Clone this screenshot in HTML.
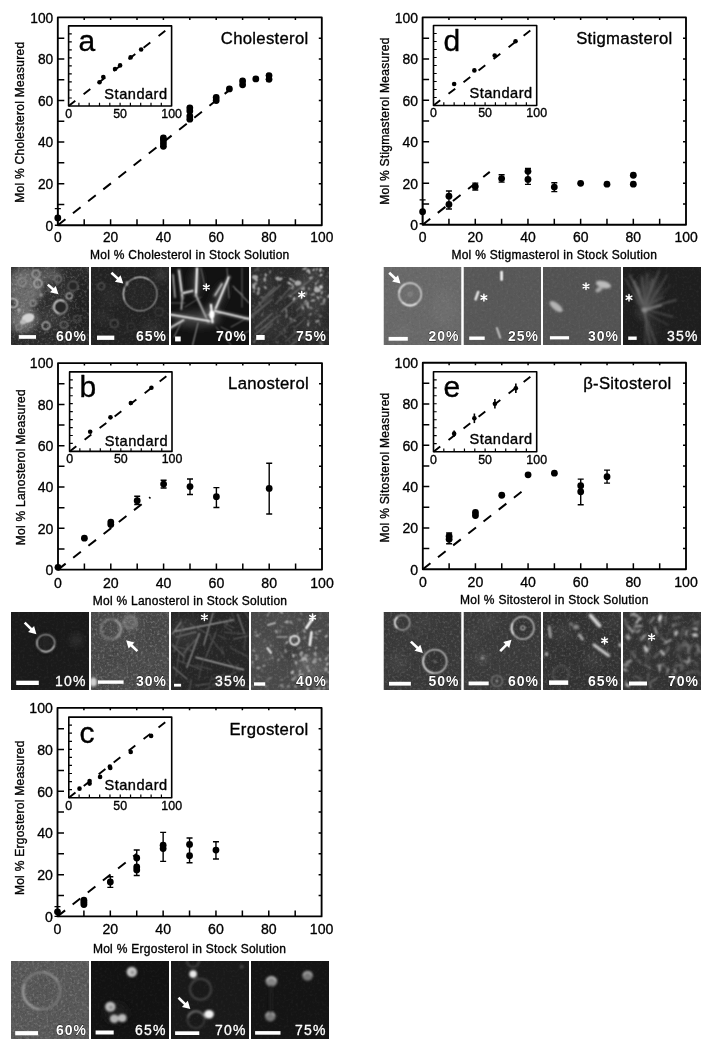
<!DOCTYPE html><html><head><meta charset="utf-8"><style>html,body{margin:0;padding:0;background:#fff;}svg{display:block;} .p text{stroke:#000;stroke-width:0.35px;}</style></head><body>
<svg width="709" height="1050" viewBox="0 0 709 1050" font-family='"Liberation Sans", sans-serif' stroke-linejoin='round'>
<rect width="709" height="1050" fill="#fff"/>
<defs><filter id="soft" x="-1%" y="-1%" width="102%" height="102%"><feOffset dx="0" dy="0"/></filter></defs>
<g filter="url(#soft)" class="p">
<rect x="57.8" y="17.4" width="264" height="207.8" fill="none" stroke="#000" stroke-width="1.85"/>
<path d="M84.2 225.2v-6M84.2 17.4v2.5M57.8 204.42h6.5M321.8 204.42h-3M110.6 225.2v-6M110.6 17.4v2.5M57.8 183.64h6.5M321.8 183.64h-3M137 225.2v-6M137 17.4v2.5M57.8 162.86h6.5M321.8 162.86h-3M163.4 225.2v-6M163.4 17.4v2.5M57.8 142.08h6.5M321.8 142.08h-3M189.8 225.2v-6M189.8 17.4v2.5M57.8 121.3h6.5M321.8 121.3h-3M216.2 225.2v-6M216.2 17.4v2.5M57.8 100.52h6.5M321.8 100.52h-3M242.6 225.2v-6M242.6 17.4v2.5M57.8 79.74h6.5M321.8 79.74h-3M269 225.2v-6M269 17.4v2.5M57.8 58.96h6.5M321.8 58.96h-3M295.4 225.2v-6M295.4 17.4v2.5M57.8 38.18h6.5M321.8 38.18h-3" stroke="#000" stroke-width="1.5" fill="none"/>
<text transform="translate(57.8 242) scale(0.915 1)" text-anchor="middle" font-size="15.04">0</text>
<text transform="translate(53.2 230.5) scale(0.915 1)" text-anchor="end" font-size="15.04">0</text>
<text transform="translate(110.6 242) scale(0.915 1)" text-anchor="middle" font-size="15.04">20</text>
<text transform="translate(53.2 188.94) scale(0.915 1)" text-anchor="end" font-size="15.04">20</text>
<text transform="translate(163.4 242) scale(0.915 1)" text-anchor="middle" font-size="15.04">40</text>
<text transform="translate(53.2 147.38) scale(0.915 1)" text-anchor="end" font-size="15.04">40</text>
<text transform="translate(216.2 242) scale(0.915 1)" text-anchor="middle" font-size="15.04">60</text>
<text transform="translate(53.2 105.82) scale(0.915 1)" text-anchor="end" font-size="15.04">60</text>
<text transform="translate(269 242) scale(0.915 1)" text-anchor="middle" font-size="15.04">80</text>
<text transform="translate(53.2 64.26) scale(0.915 1)" text-anchor="end" font-size="15.04">80</text>
<text transform="translate(321.8 242) scale(0.915 1)" text-anchor="middle" font-size="15.04">100</text>
<text transform="translate(53.2 22.7) scale(0.915 1)" text-anchor="end" font-size="15.04">100</text>
<text x="189.8" y="258.8" text-anchor="middle" font-size="12" letter-spacing="0.27">Mol % Cholesterol in Stock Solution</text>
<text transform="translate(24.4 122.2) rotate(-90)" text-anchor="middle" font-size="12" letter-spacing="0.27">Mol % Cholesterol Measured</text>
<text x="308.5" y="43.8" text-anchor="end" font-size="16.7" letter-spacing="0.3">Cholesterol</text>
<line x1="57.8" y1="225.2" x2="229.4" y2="90.13" stroke="#000" stroke-width="2" stroke-dasharray="9.7 9.6"/>
<path d="M57.8 225.2V208.58M54.8 225.2h6M54.8 208.58h6" stroke="#000" stroke-width="1.4" fill="none"/>
<circle cx="57.8" cy="217.93" r="3.4"/>
<circle cx="163.4" cy="146.24" r="3.4"/>
<circle cx="163.4" cy="143.12" r="3.4"/>
<circle cx="163.4" cy="140" r="3.4"/>
<circle cx="163.4" cy="137.92" r="3.4"/>
<circle cx="189.8" cy="119.22" r="3.4"/>
<circle cx="189.8" cy="116.1" r="3.4"/>
<circle cx="189.8" cy="110.91" r="3.4"/>
<circle cx="189.8" cy="107.79" r="3.4"/>
<circle cx="216.2" cy="100.52" r="3.4"/>
<circle cx="216.2" cy="97.4" r="3.4"/>
<circle cx="229.4" cy="88.88" r="3.4"/>
<circle cx="242.6" cy="84.73" r="3.4"/>
<circle cx="242.6" cy="80.99" r="3.4"/>
<circle cx="255.8" cy="78.91" r="3.4"/>
<circle cx="269" cy="79.32" r="3.4"/>
<circle cx="269" cy="75.58" r="3.4"/>
<rect x="68.6" y="25.9" width="103" height="80.1" fill="#fff" stroke="#000" stroke-width="1.6"/>
<path d="M78.9 106v-3.2M68.6 97.99h3.2M89.2 106v-3.2M68.6 89.98h3.2M99.5 106v-3.2M68.6 81.97h3.2M109.8 106v-3.2M68.6 73.96h3.2M120.1 106v-3.2M68.6 65.95h3.2M130.4 106v-3.2M68.6 57.94h3.2M140.7 106v-3.2M68.6 49.93h3.2M151 106v-3.2M68.6 41.92h3.2M161.3 106v-3.2M68.6 33.91h3.2" stroke="#000" stroke-width="1.2" fill="none"/>
<text x="68.6" y="117.8" text-anchor="middle" font-size="12.4">0</text>
<text x="120.1" y="117.8" text-anchor="middle" font-size="12.4">50</text>
<text x="171.6" y="117.8" text-anchor="middle" font-size="12.4">100</text>
<line x1="68.6" y1="106" x2="167.48" y2="29.1" stroke="#000" stroke-width="1.9" stroke-dasharray="8.5 10.5"/>
<circle cx="99.5" cy="82.29" r="2.3"/>
<circle cx="103.31" cy="77" r="2.3"/>
<circle cx="115.05" cy="69.07" r="2.3"/>
<circle cx="120.1" cy="65.39" r="2.3"/>
<circle cx="130.61" cy="57.38" r="2.3"/>
<circle cx="141.11" cy="49.53" r="2.3"/>
<text x="167.6" y="98.6" text-anchor="end" font-size="14.6" letter-spacing="0.5">Standard</text>
<text x="78.5" y="51" font-size="30">a</text>
<rect x="422.6" y="17.4" width="263.4" height="207.4" fill="none" stroke="#000" stroke-width="1.85"/>
<path d="M448.94 224.8v-6M448.94 17.4v2.5M422.6 204.06h6.5M686 204.06h-3M475.28 224.8v-6M475.28 17.4v2.5M422.6 183.32h6.5M686 183.32h-3M501.62 224.8v-6M501.62 17.4v2.5M422.6 162.58h6.5M686 162.58h-3M527.96 224.8v-6M527.96 17.4v2.5M422.6 141.84h6.5M686 141.84h-3M554.3 224.8v-6M554.3 17.4v2.5M422.6 121.1h6.5M686 121.1h-3M580.64 224.8v-6M580.64 17.4v2.5M422.6 100.36h6.5M686 100.36h-3M606.98 224.8v-6M606.98 17.4v2.5M422.6 79.62h6.5M686 79.62h-3M633.32 224.8v-6M633.32 17.4v2.5M422.6 58.88h6.5M686 58.88h-3M659.66 224.8v-6M659.66 17.4v2.5M422.6 38.14h6.5M686 38.14h-3" stroke="#000" stroke-width="1.5" fill="none"/>
<text transform="translate(422.6 241.9) scale(0.915 1)" text-anchor="middle" font-size="15.24">0</text>
<text transform="translate(418 230.1) scale(0.915 1)" text-anchor="end" font-size="15.24">0</text>
<text transform="translate(475.28 241.9) scale(0.915 1)" text-anchor="middle" font-size="15.24">20</text>
<text transform="translate(418 188.62) scale(0.915 1)" text-anchor="end" font-size="15.24">20</text>
<text transform="translate(527.96 241.9) scale(0.915 1)" text-anchor="middle" font-size="15.24">40</text>
<text transform="translate(418 147.14) scale(0.915 1)" text-anchor="end" font-size="15.24">40</text>
<text transform="translate(580.64 241.9) scale(0.915 1)" text-anchor="middle" font-size="15.24">60</text>
<text transform="translate(418 105.66) scale(0.915 1)" text-anchor="end" font-size="15.24">60</text>
<text transform="translate(633.32 241.9) scale(0.915 1)" text-anchor="middle" font-size="15.24">80</text>
<text transform="translate(418 64.18) scale(0.915 1)" text-anchor="end" font-size="15.24">80</text>
<text transform="translate(686 241.9) scale(0.915 1)" text-anchor="middle" font-size="15.24">100</text>
<text transform="translate(418 22.7) scale(0.915 1)" text-anchor="end" font-size="15.24">100</text>
<text x="554.3" y="258.9" text-anchor="middle" font-size="12" letter-spacing="0.27">Mol % Stigmasterol in Stock Solution</text>
<text transform="translate(389.2 121.1) rotate(-90)" text-anchor="middle" font-size="12" letter-spacing="0.27">Mol % Stigmasterol Measured</text>
<text x="672.5" y="43.8" text-anchor="end" font-size="16.7" letter-spacing="0.3">Stigmasterol</text>
<line x1="422.6" y1="224.8" x2="489.77" y2="171.91" stroke="#000" stroke-width="2" stroke-dasharray="9.7 9.6"/>
<path d="M422.6 223.76V199.91M419.6 223.76h6M419.6 199.91h6" stroke="#000" stroke-width="1.4" fill="none"/>
<circle cx="422.6" cy="211.73" r="3.4"/>
<path d="M448.94 209.04V190.99M445.94 209.04h6M445.94 190.99h6" stroke="#000" stroke-width="1.4" fill="none"/>
<circle cx="448.94" cy="196.18" r="3.4"/>
<circle cx="448.94" cy="204.47" r="3.4"/>
<path d="M475.28 189.96V183.11M472.28 189.96h6M472.28 183.11h6" stroke="#000" stroke-width="1.4" fill="none"/>
<circle cx="475.28" cy="186.43" r="3.4"/>
<path d="M501.62 182.08V174.82M498.62 182.08h6M498.62 174.82h6" stroke="#000" stroke-width="1.4" fill="none"/>
<circle cx="501.62" cy="178.55" r="3.4"/>
<path d="M527.96 184.36V168.39M524.96 184.36h6M524.96 168.39h6" stroke="#000" stroke-width="1.4" fill="none"/>
<circle cx="527.96" cy="171.29" r="3.4"/>
<circle cx="527.96" cy="179.38" r="3.4"/>
<path d="M554.3 191.62V182.7M551.3 191.62h6M551.3 182.7h6" stroke="#000" stroke-width="1.4" fill="none"/>
<circle cx="554.3" cy="187.05" r="3.4"/>
<circle cx="580.64" cy="183.32" r="3.4"/>
<circle cx="606.98" cy="184.15" r="3.4"/>
<circle cx="633.32" cy="175.23" r="3.4"/>
<circle cx="633.32" cy="184.15" r="3.4"/>
<rect x="433.5" y="25.5" width="103.2" height="80" fill="#fff" stroke="#000" stroke-width="1.6"/>
<path d="M443.82 105.5v-3.2M433.5 97.5h3.2M454.14 105.5v-3.2M433.5 89.5h3.2M464.46 105.5v-3.2M433.5 81.5h3.2M474.78 105.5v-3.2M433.5 73.5h3.2M485.1 105.5v-3.2M433.5 65.5h3.2M495.42 105.5v-3.2M433.5 57.5h3.2M505.74 105.5v-3.2M433.5 49.5h3.2M516.06 105.5v-3.2M433.5 41.5h3.2M526.38 105.5v-3.2M433.5 33.5h3.2" stroke="#000" stroke-width="1.2" fill="none"/>
<text x="433.5" y="117.3" text-anchor="middle" font-size="12.4">0</text>
<text x="485.1" y="117.3" text-anchor="middle" font-size="12.4">50</text>
<text x="536.7" y="117.3" text-anchor="middle" font-size="12.4">100</text>
<line x1="433.5" y1="105.5" x2="532.57" y2="28.7" stroke="#000" stroke-width="1.9" stroke-dasharray="8.5 10.5"/>
<circle cx="454.14" cy="83.98" r="2.3"/>
<circle cx="474.37" cy="70.38" r="2.3"/>
<circle cx="494.7" cy="55.5" r="2.3"/>
<circle cx="515.54" cy="41.18" r="2.3"/>
<text x="532.7" y="97.5" text-anchor="end" font-size="14.6" letter-spacing="0.5">Standard</text>
<text x="443.5" y="51.2" font-size="30">d</text>
<rect x="58" y="363.1" width="264" height="206.5" fill="none" stroke="#000" stroke-width="1.85"/>
<path d="M84.4 569.6v-6M84.4 363.1v2.5M58 548.95h6.5M322 548.95h-3M110.8 569.6v-6M110.8 363.1v2.5M58 528.3h6.5M322 528.3h-3M137.2 569.6v-6M137.2 363.1v2.5M58 507.65h6.5M322 507.65h-3M163.6 569.6v-6M163.6 363.1v2.5M58 487h6.5M322 487h-3M190 569.6v-6M190 363.1v2.5M58 466.35h6.5M322 466.35h-3M216.4 569.6v-6M216.4 363.1v2.5M58 445.7h6.5M322 445.7h-3M242.8 569.6v-6M242.8 363.1v2.5M58 425.05h6.5M322 425.05h-3M269.2 569.6v-6M269.2 363.1v2.5M58 404.4h6.5M322 404.4h-3M295.6 569.6v-6M295.6 363.1v2.5M58 383.75h6.5M322 383.75h-3" stroke="#000" stroke-width="1.5" fill="none"/>
<text transform="translate(58 587.5) scale(0.915 1)" text-anchor="middle" font-size="15.45">0</text>
<text transform="translate(53.4 574.9) scale(0.915 1)" text-anchor="end" font-size="15.45">0</text>
<text transform="translate(110.8 587.5) scale(0.915 1)" text-anchor="middle" font-size="15.45">20</text>
<text transform="translate(53.4 533.6) scale(0.915 1)" text-anchor="end" font-size="15.45">20</text>
<text transform="translate(163.6 587.5) scale(0.915 1)" text-anchor="middle" font-size="15.45">40</text>
<text transform="translate(53.4 492.3) scale(0.915 1)" text-anchor="end" font-size="15.45">40</text>
<text transform="translate(216.4 587.5) scale(0.915 1)" text-anchor="middle" font-size="15.45">60</text>
<text transform="translate(53.4 451) scale(0.915 1)" text-anchor="end" font-size="15.45">60</text>
<text transform="translate(269.2 587.5) scale(0.915 1)" text-anchor="middle" font-size="15.45">80</text>
<text transform="translate(53.4 409.7) scale(0.915 1)" text-anchor="end" font-size="15.45">80</text>
<text transform="translate(322 587.5) scale(0.915 1)" text-anchor="middle" font-size="15.45">100</text>
<text transform="translate(53.4 368.4) scale(0.915 1)" text-anchor="end" font-size="15.45">100</text>
<text x="190" y="604.5" text-anchor="middle" font-size="12" letter-spacing="0.27">Mol % Lanosterol in Stock Solution</text>
<text transform="translate(24.6 467.25) rotate(-90)" text-anchor="middle" font-size="12" letter-spacing="0.27">Mol % Lanosterol Measured</text>
<text x="309" y="389" text-anchor="end" font-size="16.7" letter-spacing="0.3">Lanosterol</text>
<line x1="58" y1="569.6" x2="150.4" y2="497.33" stroke="#000" stroke-width="2" stroke-dasharray="9.7 9.6"/>
<circle cx="58" cy="567.33" r="3.4"/>
<circle cx="84.4" cy="538.21" r="3.4"/>
<circle cx="110.8" cy="524.58" r="3.4"/>
<circle cx="110.8" cy="522.11" r="3.4"/>
<path d="M137.2 504.55V496.29M134.2 504.55h6M134.2 496.29h6" stroke="#000" stroke-width="1.4" fill="none"/>
<circle cx="137.2" cy="500.63" r="3.4"/>
<path d="M163.6 488.03V480.19M160.6 488.03h6M160.6 480.19h6" stroke="#000" stroke-width="1.4" fill="none"/>
<circle cx="163.6" cy="484.11" r="3.4"/>
<path d="M190 494.43V478.95M187 494.43h6M187 478.95h6" stroke="#000" stroke-width="1.4" fill="none"/>
<circle cx="190" cy="486.59" r="3.4"/>
<path d="M216.4 507.44V487.62M213.4 507.44h6M213.4 487.62h6" stroke="#000" stroke-width="1.4" fill="none"/>
<circle cx="216.4" cy="496.71" r="3.4"/>
<path d="M269.2 514.05V463.25M266.2 514.05h6M266.2 463.25h6" stroke="#000" stroke-width="1.4" fill="none"/>
<circle cx="269.2" cy="488.45" r="3.4"/>
<rect x="69.6" y="371.9" width="102.4" height="79.5" fill="#fff" stroke="#000" stroke-width="1.6"/>
<path d="M79.84 451.4v-3.2M69.6 443.45h3.2M90.08 451.4v-3.2M69.6 435.5h3.2M100.32 451.4v-3.2M69.6 427.55h3.2M110.56 451.4v-3.2M69.6 419.6h3.2M120.8 451.4v-3.2M69.6 411.65h3.2M131.04 451.4v-3.2M69.6 403.7h3.2M141.28 451.4v-3.2M69.6 395.75h3.2M151.52 451.4v-3.2M69.6 387.8h3.2M161.76 451.4v-3.2M69.6 379.85h3.2" stroke="#000" stroke-width="1.2" fill="none"/>
<text x="69.6" y="463.2" text-anchor="middle" font-size="12.4">0</text>
<text x="120.8" y="463.2" text-anchor="middle" font-size="12.4">50</text>
<text x="172" y="463.2" text-anchor="middle" font-size="12.4">100</text>
<line x1="69.6" y1="451.4" x2="167.9" y2="375.08" stroke="#000" stroke-width="1.9" stroke-dasharray="8.5 10.5"/>
<circle cx="90.18" cy="431.76" r="2.3"/>
<circle cx="110.46" cy="417.37" r="2.3"/>
<circle cx="130.84" cy="402.98" r="2.3"/>
<circle cx="151.42" cy="387.8" r="2.3"/>
<text x="168" y="446.1" text-anchor="end" font-size="14.6" letter-spacing="0.5">Standard</text>
<text x="79.5" y="397.2" font-size="30">b</text>
<rect x="422.8" y="362.7" width="263.2" height="206.5" fill="none" stroke="#000" stroke-width="1.85"/>
<path d="M449.12 569.2v-6M449.12 362.7v2.5M422.8 548.55h6.5M686 548.55h-3M475.44 569.2v-6M475.44 362.7v2.5M422.8 527.9h6.5M686 527.9h-3M501.76 569.2v-6M501.76 362.7v2.5M422.8 507.25h6.5M686 507.25h-3M528.08 569.2v-6M528.08 362.7v2.5M422.8 486.6h6.5M686 486.6h-3M554.4 569.2v-6M554.4 362.7v2.5M422.8 465.95h6.5M686 465.95h-3M580.72 569.2v-6M580.72 362.7v2.5M422.8 445.3h6.5M686 445.3h-3M607.04 569.2v-6M607.04 362.7v2.5M422.8 424.65h6.5M686 424.65h-3M633.36 569.2v-6M633.36 362.7v2.5M422.8 404h6.5M686 404h-3M659.68 569.2v-6M659.68 362.7v2.5M422.8 383.35h6.5M686 383.35h-3" stroke="#000" stroke-width="1.5" fill="none"/>
<text transform="translate(422.8 587.4) scale(0.915 1)" text-anchor="middle" font-size="15.45">0</text>
<text transform="translate(418.2 574.5) scale(0.915 1)" text-anchor="end" font-size="15.45">0</text>
<text transform="translate(475.44 587.4) scale(0.915 1)" text-anchor="middle" font-size="15.45">20</text>
<text transform="translate(418.2 533.2) scale(0.915 1)" text-anchor="end" font-size="15.45">20</text>
<text transform="translate(528.08 587.4) scale(0.915 1)" text-anchor="middle" font-size="15.45">40</text>
<text transform="translate(418.2 491.9) scale(0.915 1)" text-anchor="end" font-size="15.45">40</text>
<text transform="translate(580.72 587.4) scale(0.915 1)" text-anchor="middle" font-size="15.45">60</text>
<text transform="translate(418.2 450.6) scale(0.915 1)" text-anchor="end" font-size="15.45">60</text>
<text transform="translate(633.36 587.4) scale(0.915 1)" text-anchor="middle" font-size="15.45">80</text>
<text transform="translate(418.2 409.3) scale(0.915 1)" text-anchor="end" font-size="15.45">80</text>
<text transform="translate(686 587.4) scale(0.915 1)" text-anchor="middle" font-size="15.45">100</text>
<text transform="translate(418.2 368) scale(0.915 1)" text-anchor="end" font-size="15.45">100</text>
<text x="554.4" y="604.4" text-anchor="middle" font-size="12" letter-spacing="0.27">Mol % Sitosterol in Stock Solution</text>
<text transform="translate(389.4 467.55) rotate(-90)" text-anchor="middle" font-size="12" letter-spacing="0.27">Mol % Sitosterol Measured</text>
<text x="671.5" y="389" text-anchor="end" font-size="16.7" letter-spacing="0.3">β-Sitosterol</text>
<line x1="422.8" y1="569.2" x2="522.82" y2="490.73" stroke="#000" stroke-width="2" stroke-dasharray="9.7 9.6"/>
<path d="M449.12 543.8V533.06M446.12 543.8h6M446.12 533.06h6" stroke="#000" stroke-width="1.4" fill="none"/>
<circle cx="449.12" cy="539.26" r="3.4"/>
<circle cx="449.12" cy="536.16" r="3.4"/>
<circle cx="475.44" cy="515.51" r="3.4"/>
<circle cx="475.44" cy="512.41" r="3.4"/>
<circle cx="501.76" cy="495.27" r="3.4"/>
<circle cx="528.08" cy="474.83" r="3.4"/>
<circle cx="554.4" cy="473.18" r="3.4"/>
<path d="M580.72 504.77V479.17M577.72 504.77h6M577.72 479.17h6" stroke="#000" stroke-width="1.4" fill="none"/>
<circle cx="580.72" cy="485.77" r="3.4"/>
<circle cx="580.72" cy="491.76" r="3.4"/>
<path d="M607.04 483.09V470.08M604.04 483.09h6M604.04 470.08h6" stroke="#000" stroke-width="1.4" fill="none"/>
<circle cx="607.04" cy="476.69" r="3.4"/>
<rect x="433.5" y="371.8" width="103.2" height="79.9" fill="#fff" stroke="#000" stroke-width="1.6"/>
<path d="M443.82 451.7v-3.2M433.5 443.71h3.2M454.14 451.7v-3.2M433.5 435.72h3.2M464.46 451.7v-3.2M433.5 427.73h3.2M474.78 451.7v-3.2M433.5 419.74h3.2M485.1 451.7v-3.2M433.5 411.75h3.2M495.42 451.7v-3.2M433.5 403.76h3.2M505.74 451.7v-3.2M433.5 395.77h3.2M516.06 451.7v-3.2M433.5 387.78h3.2M526.38 451.7v-3.2M433.5 379.79h3.2" stroke="#000" stroke-width="1.2" fill="none"/>
<text x="433.5" y="463.5" text-anchor="middle" font-size="12.4">0</text>
<text x="485.1" y="463.5" text-anchor="middle" font-size="12.4">50</text>
<text x="536.7" y="463.5" text-anchor="middle" font-size="12.4">100</text>
<line x1="433.5" y1="451.7" x2="532.57" y2="375" stroke="#000" stroke-width="1.9" stroke-dasharray="8.5 10.5"/>
<path d="M454.14 436.84V430.45" stroke="#000" stroke-width="1.6"/>
<circle cx="454.14" cy="433.64" r="2.3"/>
<path d="M474.37 423.1V413.51" stroke="#000" stroke-width="1.6"/>
<circle cx="474.37" cy="418.3" r="2.3"/>
<path d="M494.9 408.47V398.89" stroke="#000" stroke-width="1.6"/>
<circle cx="494.9" cy="403.68" r="2.3"/>
<path d="M515.85 393.05V383.47" stroke="#000" stroke-width="1.6"/>
<circle cx="515.85" cy="388.26" r="2.3"/>
<text x="532.7" y="444.2" text-anchor="end" font-size="14.6" letter-spacing="0.5">Standard</text>
<text x="443.5" y="397.2" font-size="30">e</text>
<rect x="57.5" y="707.8" width="264.1" height="208.6" fill="none" stroke="#000" stroke-width="1.85"/>
<path d="M83.91 916.4v-6M83.91 707.8v2.5M57.5 895.54h6.5M321.6 895.54h-3M110.32 916.4v-6M110.32 707.8v2.5M57.5 874.68h6.5M321.6 874.68h-3M136.73 916.4v-6M136.73 707.8v2.5M57.5 853.82h6.5M321.6 853.82h-3M163.14 916.4v-6M163.14 707.8v2.5M57.5 832.96h6.5M321.6 832.96h-3M189.55 916.4v-6M189.55 707.8v2.5M57.5 812.1h6.5M321.6 812.1h-3M215.96 916.4v-6M215.96 707.8v2.5M57.5 791.24h6.5M321.6 791.24h-3M242.37 916.4v-6M242.37 707.8v2.5M57.5 770.38h6.5M321.6 770.38h-3M268.78 916.4v-6M268.78 707.8v2.5M57.5 749.52h6.5M321.6 749.52h-3M295.19 916.4v-6M295.19 707.8v2.5M57.5 728.66h6.5M321.6 728.66h-3" stroke="#000" stroke-width="1.5" fill="none"/>
<text transform="translate(57.5 933.8) scale(0.915 1)" text-anchor="middle" font-size="15.45">0</text>
<text transform="translate(52.9 921.7) scale(0.915 1)" text-anchor="end" font-size="15.45">0</text>
<text transform="translate(110.32 933.8) scale(0.915 1)" text-anchor="middle" font-size="15.45">20</text>
<text transform="translate(52.9 879.98) scale(0.915 1)" text-anchor="end" font-size="15.45">20</text>
<text transform="translate(163.14 933.8) scale(0.915 1)" text-anchor="middle" font-size="15.45">40</text>
<text transform="translate(52.9 838.26) scale(0.915 1)" text-anchor="end" font-size="15.45">40</text>
<text transform="translate(215.96 933.8) scale(0.915 1)" text-anchor="middle" font-size="15.45">60</text>
<text transform="translate(52.9 796.54) scale(0.915 1)" text-anchor="end" font-size="15.45">60</text>
<text transform="translate(268.78 933.8) scale(0.915 1)" text-anchor="middle" font-size="15.45">80</text>
<text transform="translate(52.9 754.82) scale(0.915 1)" text-anchor="end" font-size="15.45">80</text>
<text transform="translate(321.6 933.8) scale(0.915 1)" text-anchor="middle" font-size="15.45">100</text>
<text transform="translate(52.9 713.1) scale(0.915 1)" text-anchor="end" font-size="15.45">100</text>
<text x="189.55" y="952.7" text-anchor="middle" font-size="12" letter-spacing="0.27">Mol % Ergosterol in Stock Solution</text>
<text transform="translate(24.1 817.7) rotate(-90)" text-anchor="middle" font-size="12" letter-spacing="0.27">Mol % Ergosterol Measured</text>
<text x="308.5" y="734.5" text-anchor="end" font-size="16.7" letter-spacing="0.3">Ergosterol</text>
<line x1="57.5" y1="916.4" x2="136.73" y2="853.82" stroke="#000" stroke-width="2" stroke-dasharray="9.7 9.6"/>
<path d="M57.5 916.4V906.6M54.5 916.4h6M54.5 906.6h6" stroke="#000" stroke-width="1.4" fill="none"/>
<circle cx="57.5" cy="911.81" r="3.4"/>
<circle cx="83.91" cy="904.51" r="3.4"/>
<circle cx="83.91" cy="902.22" r="3.4"/>
<circle cx="83.91" cy="900.13" r="3.4"/>
<path d="M110.32 887.4V876.77M107.32 887.4h6M107.32 876.77h6" stroke="#000" stroke-width="1.4" fill="none"/>
<circle cx="110.32" cy="881.98" r="3.4"/>
<path d="M136.73 875.51V850.07M133.73 875.51h6M133.73 850.07h6" stroke="#000" stroke-width="1.4" fill="none"/>
<circle cx="136.73" cy="857.99" r="3.4"/>
<circle cx="136.73" cy="866.96" r="3.4"/>
<circle cx="136.73" cy="869.88" r="3.4"/>
<path d="M163.14 861.33V832.33M160.14 861.33h6M160.14 832.33h6" stroke="#000" stroke-width="1.4" fill="none"/>
<circle cx="163.14" cy="845.27" r="3.4"/>
<circle cx="163.14" cy="848.61" r="3.4"/>
<path d="M189.55 862.79V837.97M186.55 862.79h6M186.55 837.97h6" stroke="#000" stroke-width="1.4" fill="none"/>
<circle cx="189.55" cy="844.43" r="3.4"/>
<circle cx="189.55" cy="855.7" r="3.4"/>
<path d="M215.96 859.03V841.72M212.96 859.03h6M212.96 841.72h6" stroke="#000" stroke-width="1.4" fill="none"/>
<circle cx="215.96" cy="850.07" r="3.4"/>
<rect x="68.8" y="717.1" width="102.9" height="80.6" fill="#fff" stroke="#000" stroke-width="1.6"/>
<path d="M79.09 797.7v-3.2M68.8 789.64h3.2M89.38 797.7v-3.2M68.8 781.58h3.2M99.67 797.7v-3.2M68.8 773.52h3.2M109.96 797.7v-3.2M68.8 765.46h3.2M120.25 797.7v-3.2M68.8 757.4h3.2M130.54 797.7v-3.2M68.8 749.34h3.2M140.83 797.7v-3.2M68.8 741.28h3.2M151.12 797.7v-3.2M68.8 733.22h3.2M161.41 797.7v-3.2M68.8 725.16h3.2" stroke="#000" stroke-width="1.2" fill="none"/>
<text x="68.8" y="809.5" text-anchor="middle" font-size="12.4">0</text>
<text x="120.25" y="809.5" text-anchor="middle" font-size="12.4">50</text>
<text x="171.7" y="809.5" text-anchor="middle" font-size="12.4">100</text>
<line x1="68.8" y1="797.7" x2="167.58" y2="720.32" stroke="#000" stroke-width="1.9" stroke-dasharray="8.5 10.5"/>
<circle cx="79.5" cy="788.67" r="2.3"/>
<circle cx="89.59" cy="781.1" r="2.3"/>
<circle cx="89.59" cy="783.6" r="2.3"/>
<circle cx="100.08" cy="776.91" r="2.3"/>
<circle cx="109.86" cy="766.67" r="2.3"/>
<circle cx="110.27" cy="767.88" r="2.3"/>
<circle cx="130.75" cy="752" r="2.3"/>
<circle cx="151.12" cy="735.88" r="2.3"/>
<text x="167.7" y="790.4" text-anchor="end" font-size="14.6" letter-spacing="0.5">Standard</text>
<text x="79.5" y="742.5" font-size="30">c</text>
</g>
<defs><filter id="lbl" x="-5%" y="-10%" width="110%" height="120%"><feOffset dx="0" dy="0"/></filter><filter id="nzw" x="0" y="0" width="100%" height="100%"><feTurbulence type="fractalNoise" baseFrequency="0.42" numOctaves="2" seed="4"/><feColorMatrix type="matrix" values="0 0 0 0 1  0 0 0 0 1  0 0 0 0 1  2.2 0 0 0 -1.05"/></filter><filter id="nzk" x="0" y="0" width="100%" height="100%"><feTurbulence type="fractalNoise" baseFrequency="0.38" numOctaves="2" seed="9"/><feColorMatrix type="matrix" values="0 0 0 0 0  0 0 0 0 0  0 0 0 0 0  -2.2 0 0 0 1.05"/></filter><filter id="bl0" x="-10%" y="-10%" width="120%" height="120%"><feConvolveMatrix order="3" kernelMatrix="1 2 1 2 4 2 1 2 1" divisor="16" edgeMode="none"/></filter><filter id="bb0" x="-30%" y="-30%" width="160%" height="160%"><feGaussianBlur stdDeviation="3.5"/></filter><clipPath id="cp0"><rect x="0" y="0" width="78" height="78"/></clipPath><filter id="bl1" x="-10%" y="-10%" width="120%" height="120%"><feConvolveMatrix order="3" kernelMatrix="1 2 1 2 4 2 1 2 1" divisor="16" edgeMode="none"/></filter><filter id="bb1" x="-30%" y="-30%" width="160%" height="160%"><feGaussianBlur stdDeviation="3.5"/></filter><clipPath id="cp1"><rect x="0" y="0" width="78" height="78"/></clipPath><filter id="bl2" x="-10%" y="-10%" width="120%" height="120%"><feConvolveMatrix order="3" kernelMatrix="1 2 1 2 4 2 1 2 1" divisor="16" edgeMode="none"/></filter><filter id="bb2" x="-30%" y="-30%" width="160%" height="160%"><feGaussianBlur stdDeviation="3.5"/></filter><clipPath id="cp2"><rect x="0" y="0" width="78" height="78"/></clipPath><filter id="bl3" x="-10%" y="-10%" width="120%" height="120%"><feConvolveMatrix order="3" kernelMatrix="1 2 1 2 4 2 1 2 1" divisor="16" edgeMode="none"/></filter><filter id="bb3" x="-30%" y="-30%" width="160%" height="160%"><feGaussianBlur stdDeviation="3.5"/></filter><clipPath id="cp3"><rect x="0" y="0" width="78" height="78"/></clipPath><filter id="bl4" x="-10%" y="-10%" width="120%" height="120%"><feConvolveMatrix order="3" kernelMatrix="1 2 1 2 4 2 1 2 1" divisor="16" edgeMode="none"/></filter><filter id="bb4" x="-30%" y="-30%" width="160%" height="160%"><feGaussianBlur stdDeviation="3.5"/></filter><clipPath id="cp4"><rect x="0" y="0" width="78" height="78"/></clipPath><filter id="bl5" x="-10%" y="-10%" width="120%" height="120%"><feConvolveMatrix order="3" kernelMatrix="1 2 1 2 4 2 1 2 1" divisor="16" edgeMode="none"/></filter><filter id="bb5" x="-30%" y="-30%" width="160%" height="160%"><feGaussianBlur stdDeviation="3.5"/></filter><clipPath id="cp5"><rect x="0" y="0" width="77.5" height="78"/></clipPath><filter id="bl6" x="-10%" y="-10%" width="120%" height="120%"><feGaussianBlur stdDeviation="0.9"/></filter><filter id="bb6" x="-30%" y="-30%" width="160%" height="160%"><feGaussianBlur stdDeviation="3.5"/></filter><clipPath id="cp6"><rect x="0" y="0" width="78" height="78"/></clipPath><filter id="bl7" x="-10%" y="-10%" width="120%" height="120%"><feGaussianBlur stdDeviation="1.0"/></filter><filter id="bb7" x="-30%" y="-30%" width="160%" height="160%"><feGaussianBlur stdDeviation="3.5"/></filter><clipPath id="cp7"><rect x="0" y="0" width="78" height="78"/></clipPath><filter id="bl8" x="-10%" y="-10%" width="120%" height="120%"><feConvolveMatrix order="3" kernelMatrix="1 2 1 2 4 2 1 2 1" divisor="16" edgeMode="none"/></filter><filter id="bb8" x="-30%" y="-30%" width="160%" height="160%"><feGaussianBlur stdDeviation="3.5"/></filter><clipPath id="cp8"><rect x="0" y="0" width="78" height="78"/></clipPath><filter id="bl9" x="-10%" y="-10%" width="120%" height="120%"><feGaussianBlur stdDeviation="0.8"/></filter><filter id="bb9" x="-30%" y="-30%" width="160%" height="160%"><feGaussianBlur stdDeviation="3.5"/></filter><clipPath id="cp9"><rect x="0" y="0" width="78" height="78"/></clipPath><filter id="bl10" x="-10%" y="-10%" width="120%" height="120%"><feConvolveMatrix order="3" kernelMatrix="1 2 1 2 4 2 1 2 1" divisor="16" edgeMode="none"/></filter><filter id="bb10" x="-30%" y="-30%" width="160%" height="160%"><feGaussianBlur stdDeviation="3.5"/></filter><clipPath id="cp10"><rect x="0" y="0" width="78" height="78"/></clipPath><filter id="bl11" x="-10%" y="-10%" width="120%" height="120%"><feConvolveMatrix order="3" kernelMatrix="1 2 1 2 4 2 1 2 1" divisor="16" edgeMode="none"/></filter><filter id="bb11" x="-30%" y="-30%" width="160%" height="160%"><feGaussianBlur stdDeviation="3.5"/></filter><clipPath id="cp11"><rect x="0" y="0" width="78" height="78"/></clipPath><filter id="bl12" x="-10%" y="-10%" width="120%" height="120%"><feConvolveMatrix order="3" kernelMatrix="1 2 1 2 4 2 1 2 1" divisor="16" edgeMode="none"/></filter><filter id="bb12" x="-30%" y="-30%" width="160%" height="160%"><feGaussianBlur stdDeviation="3.5"/></filter><clipPath id="cp12"><rect x="0" y="0" width="78" height="78"/></clipPath><filter id="bl13" x="-10%" y="-10%" width="120%" height="120%"><feConvolveMatrix order="3" kernelMatrix="1 2 1 2 4 2 1 2 1" divisor="16" edgeMode="none"/></filter><filter id="bb13" x="-30%" y="-30%" width="160%" height="160%"><feGaussianBlur stdDeviation="3.5"/></filter><clipPath id="cp13"><rect x="0" y="0" width="77.5" height="78"/></clipPath><filter id="bl14" x="-10%" y="-10%" width="120%" height="120%"><feGaussianBlur stdDeviation="0.8"/></filter><filter id="bb14" x="-30%" y="-30%" width="160%" height="160%"><feGaussianBlur stdDeviation="3.5"/></filter><clipPath id="cp14"><rect x="0" y="0" width="78" height="78"/></clipPath><filter id="bl15" x="-10%" y="-10%" width="120%" height="120%"><feGaussianBlur stdDeviation="0.95"/></filter><filter id="bb15" x="-30%" y="-30%" width="160%" height="160%"><feGaussianBlur stdDeviation="3.5"/></filter><clipPath id="cp15"><rect x="0" y="0" width="78" height="78"/></clipPath><filter id="bl16" x="-10%" y="-10%" width="120%" height="120%"><feGaussianBlur stdDeviation="0.8"/></filter><filter id="bb16" x="-30%" y="-30%" width="160%" height="160%"><feGaussianBlur stdDeviation="3.5"/></filter><clipPath id="cp16"><rect x="0" y="0" width="78" height="78"/></clipPath><filter id="bl17" x="-10%" y="-10%" width="120%" height="120%"><feGaussianBlur stdDeviation="0.9"/></filter><filter id="bb17" x="-30%" y="-30%" width="160%" height="160%"><feGaussianBlur stdDeviation="3.5"/></filter><clipPath id="cp17"><rect x="0" y="0" width="78" height="78"/></clipPath><filter id="bl18" x="-10%" y="-10%" width="120%" height="120%"><feGaussianBlur stdDeviation="0.8"/></filter><filter id="bb18" x="-30%" y="-30%" width="160%" height="160%"><feGaussianBlur stdDeviation="3.5"/></filter><clipPath id="cp18"><rect x="0" y="0" width="78" height="78"/></clipPath><filter id="bl19" x="-10%" y="-10%" width="120%" height="120%"><feGaussianBlur stdDeviation="0.9"/></filter><filter id="bb19" x="-30%" y="-30%" width="160%" height="160%"><feGaussianBlur stdDeviation="3.5"/></filter><clipPath id="cp19"><rect x="0" y="0" width="78" height="78"/></clipPath></defs>
<g transform="translate(11 267)"><g clip-path="url(#cp0)"><rect width="78" height="78" fill="#2c2c2c"/><g filter="url(#bb0)"><ellipse cx="14" cy="20" rx="18" ry="20" fill="#6a6a6a" opacity="1"/><ellipse cx="12" cy="52" rx="14" ry="14" fill="#707070" opacity="1"/><ellipse cx="36" cy="8" rx="14" ry="8" fill="#585858" opacity="1"/><ellipse cx="70" cy="40" rx="10" ry="30" fill="#222" opacity="1"/><ellipse cx="40" cy="50" rx="12" ry="10" fill="#3a3a3a" opacity="1"/><ellipse cx="50" cy="30" rx="10" ry="10" fill="#333" opacity="1"/></g><rect width="78" height="78" filter="url(#nzw)" opacity="0.245"/><rect width="78" height="78" filter="url(#nzk)" opacity="0.21"/><g filter="url(#bl0)"><circle cx="25" cy="7" r="3.8" fill="none" stroke="#a0a0a0" stroke-width="1.5" opacity="1"/><circle cx="27" cy="16.5" r="4" fill="none" stroke="#b0b0b0" stroke-width="1.5" opacity="1"/><circle cx="11" cy="15" r="4" fill="none" stroke="#909090" stroke-width="1.4" opacity="1"/><ellipse cx="49.5" cy="40" rx="5.5" ry="5.5" fill="#262626" opacity="1"/><path d="M48.32 46.7A6.8 6.8 0 1 1 52.9 34.11" stroke="#d0d0d0" stroke-width="1.6" fill="none" opacity="1" stroke-linecap="round"/><path d="M52.9 34.11A6.8 6.8 0 0 1 48.32 46.7" stroke="#8a8a8a" stroke-width="1.4" fill="none" opacity="1" stroke-linecap="round"/><circle cx="58.3" cy="28.9" r="3" fill="none" stroke="#a0a0a0" stroke-width="1.3" opacity="1"/><circle cx="62" cy="19" r="5" fill="none" stroke="#5a5a5a" stroke-width="1.3" opacity="1"/><ellipse cx="62" cy="19" rx="4" ry="4" fill="#262626" opacity="1"/><circle cx="35" cy="58.8" r="3.8" fill="none" stroke="#a8a8a8" stroke-width="1.5" opacity="1"/><circle cx="2" cy="36" r="4.5" fill="none" stroke="#b8b8b8" stroke-width="1.7" opacity="1"/><ellipse cx="17" cy="51" rx="6.5" ry="4.5" fill="#d4d4d4" opacity="1" transform="rotate(-20 17 51)"/><ellipse cx="12" cy="55" rx="3" ry="2.5" fill="#bcbcbc" opacity="1"/><circle cx="47" cy="12" r="3.5" fill="none" stroke="#7a7a7a" stroke-width="1.3" opacity="1"/><circle cx="53" cy="58" r="3.5" fill="none" stroke="#707070" stroke-width="1.2" opacity="1"/><circle cx="22" cy="36" r="3" fill="none" stroke="#8a8a8a" stroke-width="1.3" opacity="1"/><circle cx="40" cy="22" r="3" fill="none" stroke="#6a6a6a" stroke-width="1.2" opacity="1"/><ellipse cx="8" cy="43" rx="2" ry="2" fill="#a0a0a0" opacity="1"/><ellipse cx="30" cy="28" rx="2" ry="2" fill="#8a8a8a" opacity="1"/><circle cx="20" cy="27" r="3" fill="none" stroke="#777" stroke-width="1.2" opacity="1"/><circle cx="8" cy="60" r="3" fill="none" stroke="#888" stroke-width="1.2" opacity="1"/><circle cx="66" cy="52" r="3.5" fill="none" stroke="#555" stroke-width="1.2" opacity="1"/></g><line x1="36.8" y1="17.6" x2="42.66" y2="22.86" stroke="#fff" stroke-width="2.6"/><path d="M47.5 27.2L39.08 25.35L44.76 19.03Z" fill="#fff"/><rect x="7.8" y="68.1" width="17.2" height="3.7" fill="#fff"/><text filter="url(#lbl)" x="75.8" y="74" text-anchor="end" font-size="14" font-weight="bold" fill="#fff" letter-spacing="0.9" stroke="#111" stroke-width="0.8" paint-order="stroke">60%</text></g></g>
<g transform="translate(91 267)"><g clip-path="url(#cp1)"><rect width="78" height="78" fill="#232323"/><g filter="url(#bb1)"><ellipse cx="12" cy="50" rx="8" ry="6" fill="#2f2f2f" opacity="1"/><ellipse cx="60" cy="62" rx="10" ry="8" fill="#2e2e2e" opacity="1"/><ellipse cx="70" cy="8" rx="6" ry="6" fill="#3a3a3a" opacity="1"/><ellipse cx="20" cy="30" rx="10" ry="10" fill="#2a2a2a" opacity="1"/><ellipse cx="49" cy="27" rx="14" ry="14" fill="#282828" opacity="1"/></g><rect width="78" height="78" filter="url(#nzw)" opacity="0.105"/><rect width="78" height="78" filter="url(#nzk)" opacity="0.14"/><g filter="url(#bl1)"><circle cx="49.2" cy="27" r="16.8" fill="none" stroke="#9a9a9a" stroke-width="1.15" opacity="1"/><path d="M33.41 32.75A16.8 16.8 0 0 1 33.41 21.25" stroke="#c8c8c8" stroke-width="1.3" fill="none" opacity="1" stroke-linecap="round"/><path d="M43.45 11.21A16.8 16.8 0 0 1 57.6 12.45" stroke="#c0c0c0" stroke-width="1.3" fill="none" opacity="1" stroke-linecap="round"/><circle cx="10.3" cy="19.3" r="3.4" fill="none" stroke="#505050" stroke-width="1.5" opacity="1"/><circle cx="23.3" cy="56.6" r="4" fill="none" stroke="#4a4a4a" stroke-width="1.6" opacity="1"/><ellipse cx="36" cy="16.5" rx="1.5" ry="2.5" fill="#999" opacity="1"/><circle cx="68" cy="45" r="4" fill="none" stroke="#3a3a3a" stroke-width="1.4" opacity="1"/><circle cx="40" cy="60" r="4" fill="none" stroke="#363636" stroke-width="1.3" opacity="1"/></g><line x1="20.4" y1="5.8" x2="27.47" y2="12.15" stroke="#fff" stroke-width="2.6"/><path d="M32.3 16.5L23.88 14.65L29.56 8.33Z" fill="#fff"/><rect x="6" y="68.6" width="17.3" height="4.3" fill="#fff"/><text filter="url(#lbl)" x="75.8" y="74" text-anchor="end" font-size="14" font-weight="bold" fill="#fff" letter-spacing="0.9" stroke="#111" stroke-width="0.8" paint-order="stroke">65%</text></g></g>
<g transform="translate(171 267)"><g clip-path="url(#cp2)"><rect width="78" height="78" fill="#121212"/><g filter="url(#bb2)"><ellipse cx="25" cy="52" rx="24" ry="8" fill="#3a3a3a" opacity="1"/><ellipse cx="25" cy="15" rx="6" ry="14" fill="#333" opacity="1"/><ellipse cx="48" cy="30" rx="6" ry="16" fill="#2e2e2e" opacity="1" transform="rotate(25 48 30)"/><ellipse cx="40" cy="48" rx="8" ry="8" fill="#555" opacity="1"/></g><g filter="url(#bl2)"><line x1="71" y1="1" x2="71" y2="40" stroke="#555" stroke-width="1.1" opacity="1" stroke-linecap="round"/><line x1="62" y1="19" x2="78" y2="36" stroke="#666" stroke-width="1.1" opacity="1" stroke-linecap="round"/><line x1="56" y1="1.3" x2="58" y2="31" stroke="#666" stroke-width="1.1" opacity="1" stroke-linecap="round"/><line x1="60" y1="60" x2="78" y2="50" stroke="#555" stroke-width="1.1" opacity="1" stroke-linecap="round"/><line x1="30" y1="1" x2="34" y2="20" stroke="#666" stroke-width="1.1" opacity="1" stroke-linecap="round"/><line x1="45" y1="60" x2="60" y2="78" stroke="#555" stroke-width="1.1" opacity="1" stroke-linecap="round"/><line x1="64" y1="22" x2="72" y2="28" stroke="#666" stroke-width="1.1" opacity="1" stroke-linecap="round"/><line x1="66" y1="70" x2="78" y2="64" stroke="#555" stroke-width="1.1" opacity="1" stroke-linecap="round"/><line x1="14" y1="40" x2="30" y2="30" stroke="#4a4a4a" stroke-width="1.1" opacity="1" stroke-linecap="round"/><line x1="21.6" y1="78" x2="27" y2="56" stroke="#777" stroke-width="1.3" opacity="1" stroke-linecap="round"/><line x1="0" y1="36" x2="14" y2="36" stroke="#555" stroke-width="1" opacity="1" stroke-linecap="round"/><line x1="36" y1="48" x2="50" y2="46" stroke="#888" stroke-width="1.3" opacity="1" stroke-linecap="round"/><line x1="50" y1="60" x2="70" y2="70" stroke="#555" stroke-width="1.1" opacity="1" stroke-linecap="round"/><line x1="3" y1="70" x2="10" y2="56" stroke="#666" stroke-width="1.2" opacity="1" stroke-linecap="round"/><line x1="8" y1="3.5" x2="11.4" y2="30.6" stroke="#666" stroke-width="4.95" opacity="0.5" stroke-linecap="round"/><line x1="8" y1="3.5" x2="11.4" y2="30.6" stroke="#f0f0f0" stroke-width="1.5" opacity="1" stroke-linecap="round"/><line x1="11.4" y1="30.6" x2="10.3" y2="42" stroke="#666" stroke-width="3.3000000000000003" opacity="0.5" stroke-linecap="round"/><line x1="11.4" y1="30.6" x2="10.3" y2="42" stroke="#aaa" stroke-width="1.0499999999999998" opacity="1" stroke-linecap="round"/><line x1="26" y1="1.3" x2="25" y2="28.3" stroke="#666" stroke-width="5.5" opacity="0.5" stroke-linecap="round"/><line x1="26" y1="1.3" x2="25" y2="28.3" stroke="#fff" stroke-width="1.7999999999999998" opacity="1" stroke-linecap="round"/><line x1="25" y1="28.3" x2="37.4" y2="55.4" stroke="#666" stroke-width="3.8500000000000005" opacity="0.5" stroke-linecap="round"/><line x1="25" y1="28.3" x2="37.4" y2="55.4" stroke="#bbb" stroke-width="1.125" opacity="1" stroke-linecap="round"/><line x1="57.7" y1="10.3" x2="40.8" y2="50.9" stroke="#666" stroke-width="5.5" opacity="0.5" stroke-linecap="round"/><line x1="57.7" y1="10.3" x2="40.8" y2="50.9" stroke="#f4f4f4" stroke-width="1.6500000000000001" opacity="1" stroke-linecap="round"/><line x1="50.9" y1="17" x2="44.1" y2="28.3" stroke="#666" stroke-width="4.95" opacity="0.5" stroke-linecap="round"/><line x1="50.9" y1="17" x2="44.1" y2="28.3" stroke="#ddd" stroke-width="1.2000000000000002" opacity="1" stroke-linecap="round"/><line x1="-1" y1="47.5" x2="39.6" y2="54.3" stroke="#666" stroke-width="6.050000000000001" opacity="0.5" stroke-linecap="round"/><line x1="-1" y1="47.5" x2="39.6" y2="54.3" stroke="#f0f0f0" stroke-width="1.6500000000000001" opacity="1" stroke-linecap="round"/><line x1="44.1" y1="44.1" x2="78" y2="52" stroke="#666" stroke-width="5.5" opacity="0.5" stroke-linecap="round"/><line x1="44.1" y1="44.1" x2="78" y2="52" stroke="#e8e8e8" stroke-width="1.5" opacity="1" stroke-linecap="round"/><line x1="-1" y1="61" x2="12.5" y2="53.2" stroke="#666" stroke-width="4.95" opacity="0.5" stroke-linecap="round"/><line x1="-1" y1="61" x2="12.5" y2="53.2" stroke="#ddd" stroke-width="1.35" opacity="1" stroke-linecap="round"/><line x1="12.5" y1="26" x2="21.6" y2="23.8" stroke="#666" stroke-width="4.95" opacity="0.5" stroke-linecap="round"/><line x1="12.5" y1="26" x2="21.6" y2="23.8" stroke="#eee" stroke-width="1.35" opacity="1" stroke-linecap="round"/><line x1="40" y1="38" x2="41.5" y2="55" stroke="#666" stroke-width="5.5" opacity="0.5" stroke-linecap="round"/><line x1="40" y1="38" x2="41.5" y2="55" stroke="#fff" stroke-width="1.9500000000000002" opacity="1" stroke-linecap="round"/><ellipse cx="40.8" cy="47.5" rx="2.5" ry="4" fill="#fff" opacity="1"/><line x1="2" y1="8" x2="4" y2="30" stroke="#666" stroke-width="3.3000000000000003" opacity="0.5" stroke-linecap="round"/><line x1="2" y1="8" x2="4" y2="30" stroke="#aaa" stroke-width="0.9750000000000001" opacity="1" stroke-linecap="round"/></g><path d="M35.3 23.5L35.3 16.9M32.44 21.85L38.16 18.55M32.44 18.55L38.16 21.85" stroke="#fff" stroke-width="1.5" stroke-linecap="round"/><rect x="4.1" y="69.5" width="5.6" height="4.9" fill="#fff"/><text filter="url(#lbl)" x="75.8" y="74" text-anchor="end" font-size="14" font-weight="bold" fill="#fff" letter-spacing="0.9" stroke="#111" stroke-width="0.8" paint-order="stroke">70%</text></g></g>
<g transform="translate(251 267)"><g clip-path="url(#cp3)"><rect width="78" height="78" fill="#2a2a2a"/><g filter="url(#bb3)"><ellipse cx="60" cy="25" rx="18" ry="24" fill="#3a3a3a" opacity="1"/><ellipse cx="10" cy="15" rx="12" ry="10" fill="#363636" opacity="1"/><ellipse cx="20" cy="55" rx="16" ry="14" fill="#333" opacity="1"/><ellipse cx="60" cy="60" rx="12" ry="10" fill="#333" opacity="1"/></g><rect width="78" height="78" filter="url(#nzw)" opacity="0.105"/><g filter="url(#bl3)"><ellipse cx="35.29" cy="43.66" rx="2.52" ry="1.15" fill="#707070" opacity="1" transform="rotate(81.32981770792176 35.29 43.66)"/><ellipse cx="66.69" cy="14.81" rx="2.34" ry="1.06" fill="#707070" opacity="1" transform="rotate(113.37888963902435 66.69 14.81)"/><ellipse cx="61.85" cy="7.34" rx="1.57" ry="0.71" fill="#505050" opacity="1" transform="rotate(96.96483154398213 61.85 7.34)"/><ellipse cx="69.45" cy="49.49" rx="2.02" ry="0.92" fill="#707070" opacity="1" transform="rotate(173.65640060260202 69.45 49.49)"/><ellipse cx="51.01" cy="48.01" rx="1.34" ry="0.61" fill="#505050" opacity="1" transform="rotate(149.70629256299605 51.01 48.01)"/><ellipse cx="4.93" cy="2.78" rx="2.45" ry="1.12" fill="#505050" opacity="1" transform="rotate(140.0595131777838 4.93 2.78)"/><ellipse cx="25.45" cy="46.09" rx="1.4" ry="0.64" fill="#5a5a5a" opacity="1" transform="rotate(115.25250742545188 25.45 46.09)"/><ellipse cx="38.98" cy="51.67" rx="1.8" ry="0.82" fill="#666" opacity="1" transform="rotate(73.22017281933215 38.98 51.67)"/><ellipse cx="43" cy="72.67" rx="1.23" ry="0.56" fill="#666" opacity="1" transform="rotate(56.74989906279898 43 72.67)"/><ellipse cx="17.91" cy="22.55" rx="1.21" ry="0.55" fill="#505050" opacity="1" transform="rotate(72.07196488532838 17.91 22.55)"/><ellipse cx="66.03" cy="30.15" rx="2.58" ry="1.17" fill="#505050" opacity="1" transform="rotate(38.43030212632666 66.03 30.15)"/><ellipse cx="72.31" cy="4.08" rx="1.68" ry="0.76" fill="#707070" opacity="1" transform="rotate(75.56245217581764 72.31 4.08)"/><ellipse cx="44.17" cy="15.48" rx="2.14" ry="0.97" fill="#666" opacity="1" transform="rotate(15.685955703390624 44.17 15.48)"/><ellipse cx="25.94" cy="75.2" rx="2.27" ry="1.03" fill="#505050" opacity="1" transform="rotate(24.22736439369492 25.94 75.2)"/><ellipse cx="55.15" cy="0.85" rx="1.82" ry="0.83" fill="#707070" opacity="1" transform="rotate(31.982063075705906 55.15 0.85)"/><ellipse cx="43.63" cy="34.9" rx="1.39" ry="0.63" fill="#5a5a5a" opacity="1" transform="rotate(75.46148922941626 43.63 34.9)"/><ellipse cx="29.93" cy="30.8" rx="2.62" ry="1.19" fill="#505050" opacity="1" transform="rotate(48.56309589430769 29.93 30.8)"/><ellipse cx="75.73" cy="62.67" rx="1.57" ry="0.71" fill="#505050" opacity="1" transform="rotate(37.92783985819909 75.73 62.67)"/><ellipse cx="30.75" cy="66.64" rx="2.09" ry="0.95" fill="#505050" opacity="1" transform="rotate(7.579407677608023 30.75 66.64)"/><ellipse cx="11.42" cy="34.44" rx="1.11" ry="0.51" fill="#666" opacity="1" transform="rotate(149.4521060089652 11.42 34.44)"/><ellipse cx="30.12" cy="5.79" rx="1.42" ry="0.65" fill="#5a5a5a" opacity="1" transform="rotate(2.791633220248595 30.12 5.79)"/><ellipse cx="28.76" cy="48.53" rx="1.3" ry="0.59" fill="#707070" opacity="1" transform="rotate(149.82466119097785 28.76 48.53)"/><ellipse cx="10.59" cy="30.12" rx="2.07" ry="0.94" fill="#666" opacity="1" transform="rotate(163.51627156964693 10.59 30.12)"/><ellipse cx="63.79" cy="19.46" rx="1.39" ry="0.63" fill="#5a5a5a" opacity="1" transform="rotate(123.65532063711026 63.79 19.46)"/><ellipse cx="30.28" cy="37.64" rx="1.22" ry="0.55" fill="#505050" opacity="1" transform="rotate(18.691142645690647 30.28 37.64)"/><ellipse cx="3.02" cy="75.09" rx="1.47" ry="0.67" fill="#707070" opacity="1" transform="rotate(46.25665169765615 3.02 75.09)"/><ellipse cx="64.25" cy="46.52" rx="1.55" ry="0.71" fill="#5a5a5a" opacity="1" transform="rotate(167.26251356053052 64.25 46.52)"/><ellipse cx="76.22" cy="9.86" rx="1.84" ry="0.84" fill="#505050" opacity="1" transform="rotate(50.439490662753904 76.22 9.86)"/><ellipse cx="71.55" cy="15.91" rx="1.13" ry="0.51" fill="#666" opacity="1" transform="rotate(74.05678123404826 71.55 15.91)"/><ellipse cx="19.43" cy="3.63" rx="1.53" ry="0.7" fill="#5a5a5a" opacity="1" transform="rotate(16.59458223869002 19.43 3.63)"/><ellipse cx="10.8" cy="35.13" rx="1.61" ry="0.73" fill="#5a5a5a" opacity="1" transform="rotate(106.177613633234 10.8 35.13)"/><ellipse cx="72.04" cy="37.03" rx="1.65" ry="0.75" fill="#666" opacity="1" transform="rotate(173.29878245322058 72.04 37.03)"/><ellipse cx="1.66" cy="49.62" rx="1.84" ry="0.84" fill="#666" opacity="1" transform="rotate(57.40280825338545 1.66 49.62)"/><ellipse cx="77.95" cy="5.87" rx="1.94" ry="0.88" fill="#505050" opacity="1" transform="rotate(162.03525862488823 77.95 5.87)"/><ellipse cx="57.49" cy="54.89" rx="2.32" ry="1.06" fill="#666" opacity="1" transform="rotate(63.33013739650567 57.49 54.89)"/><ellipse cx="53.44" cy="70.27" rx="2.44" ry="1.11" fill="#707070" opacity="1" transform="rotate(169.96308239024697 53.44 70.27)"/><ellipse cx="2.36" cy="38.99" rx="1.12" ry="0.51" fill="#707070" opacity="1" transform="rotate(68.25175557197778 2.36 38.99)"/><ellipse cx="0.97" cy="5.64" rx="1.24" ry="0.56" fill="#505050" opacity="1" transform="rotate(178.797993855898 0.97 5.64)"/><ellipse cx="68.62" cy="56.8" rx="1.7" ry="0.77" fill="#707070" opacity="1" transform="rotate(79.29404916816951 68.62 56.8)"/><ellipse cx="65.39" cy="6.54" rx="2.26" ry="1.03" fill="#505050" opacity="1" transform="rotate(55.842298330600165 65.39 6.54)"/><ellipse cx="6.84" cy="1.74" rx="2.57" ry="1.17" fill="#505050" opacity="1" transform="rotate(89.50510397844243 6.84 1.74)"/><ellipse cx="47.93" cy="71.8" rx="1.49" ry="0.68" fill="#505050" opacity="1" transform="rotate(66.23124312002862 47.93 71.8)"/><ellipse cx="11.17" cy="47.72" rx="1.9" ry="0.86" fill="#666" opacity="1" transform="rotate(118.79820084165229 11.17 47.72)"/><ellipse cx="34.47" cy="69.55" rx="1.6" ry="0.73" fill="#666" opacity="1" transform="rotate(35.73104019575687 34.47 69.55)"/><ellipse cx="33.61" cy="62.87" rx="2.51" ry="1.14" fill="#5a5a5a" opacity="1" transform="rotate(69.19536292198254 33.61 62.87)"/><ellipse cx="45.48" cy="24.69" rx="1.31" ry="0.6" fill="#707070" opacity="1" transform="rotate(63.134125252643294 45.48 24.69)"/><ellipse cx="69.86" cy="3.16" rx="1.2" ry="0.54" fill="#666" opacity="1" transform="rotate(147.93437250288727 69.86 3.16)"/><ellipse cx="8.8" cy="36.77" rx="2.53" ry="1.15" fill="#707070" opacity="1" transform="rotate(68.85865906351835 8.8 36.77)"/><ellipse cx="40.56" cy="52.43" rx="2.2" ry="1" fill="#707070" opacity="1" transform="rotate(57.66231859804882 40.56 52.43)"/><ellipse cx="64.64" cy="21.69" rx="2.04" ry="0.93" fill="#666" opacity="1" transform="rotate(102.70475286065525 64.64 21.69)"/><ellipse cx="24.1" cy="61.74" rx="1.13" ry="0.51" fill="#5a5a5a" opacity="1" transform="rotate(72.93403001032645 24.1 61.74)"/><ellipse cx="14.81" cy="60" rx="1.51" ry="0.69" fill="#5a5a5a" opacity="1" transform="rotate(143.4325165186052 14.81 60)"/><ellipse cx="76.75" cy="8.99" rx="1.27" ry="0.58" fill="#666" opacity="1" transform="rotate(172.52291734542183 76.75 8.99)"/><ellipse cx="53.39" cy="15.55" rx="1.83" ry="0.83" fill="#5a5a5a" opacity="1" transform="rotate(128.56012479914725 53.39 15.55)"/><ellipse cx="58.89" cy="41.72" rx="1.16" ry="0.53" fill="#5a5a5a" opacity="1" transform="rotate(49.02388855923037 58.89 41.72)"/><ellipse cx="26.97" cy="54.39" rx="1.9" ry="0.86" fill="#5a5a5a" opacity="1" transform="rotate(70.83291808349735 26.97 54.39)"/><ellipse cx="61.77" cy="70.69" rx="1.23" ry="0.56" fill="#707070" opacity="1" transform="rotate(23.3837857923696 61.77 70.69)"/><ellipse cx="35.38" cy="48.79" rx="2.5" ry="1.14" fill="#707070" opacity="1" transform="rotate(99.00235252370334 35.38 48.79)"/><ellipse cx="50.91" cy="39.21" rx="2.36" ry="1.07" fill="#666" opacity="1" transform="rotate(83.46739186915839 50.91 39.21)"/><ellipse cx="50.8" cy="15.98" rx="2.21" ry="1.01" fill="#505050" opacity="1" transform="rotate(38.39338424513146 50.8 15.98)"/><ellipse cx="70.2" cy="76.48" rx="2.61" ry="1.18" fill="#666" opacity="1" transform="rotate(47.138967691348114 70.2 76.48)"/><ellipse cx="56.02" cy="1.22" rx="1.88" ry="0.85" fill="#505050" opacity="1" transform="rotate(79.3622146663795 56.02 1.22)"/><ellipse cx="42.92" cy="59.92" rx="1.85" ry="0.84" fill="#505050" opacity="1" transform="rotate(39.29301400218328 42.92 59.92)"/><ellipse cx="67.67" cy="33.46" rx="1.15" ry="0.52" fill="#666" opacity="1" transform="rotate(123.58502106236713 67.67 33.46)"/><ellipse cx="71.45" cy="36.7" rx="2.64" ry="1.2" fill="#707070" opacity="1" transform="rotate(170.23453145018945 71.45 36.7)"/><ellipse cx="38.42" cy="74.03" rx="1.23" ry="0.56" fill="#5a5a5a" opacity="1" transform="rotate(79.09597750603713 38.42 74.03)"/><ellipse cx="43.58" cy="64.83" rx="1.96" ry="0.89" fill="#5a5a5a" opacity="1" transform="rotate(94.10089040218814 43.58 64.83)"/><ellipse cx="65.8" cy="43.68" rx="1.58" ry="0.72" fill="#707070" opacity="1" transform="rotate(171.86122277488485 65.8 43.68)"/><ellipse cx="67.87" cy="47.54" rx="1.57" ry="0.71" fill="#5a5a5a" opacity="1" transform="rotate(174.31926576829076 67.87 47.54)"/><ellipse cx="40.89" cy="44.69" rx="1.41" ry="0.64" fill="#505050" opacity="1" transform="rotate(90.57133868998618 40.89 44.69)"/><ellipse cx="56.98" cy="39.45" rx="2.15" ry="1.13" fill="#9a9a9a" opacity="1" transform="rotate(68.69538412954567 56.98 39.45)"/><ellipse cx="77.86" cy="28.95" rx="2.12" ry="1.11" fill="#b8b8b8" opacity="1" transform="rotate(124.30667754696321 77.86 28.95)"/><ellipse cx="62.06" cy="33.49" rx="2.15" ry="1.13" fill="#9a9a9a" opacity="1" transform="rotate(176.04728012688355 62.06 33.49)"/><ellipse cx="52.71" cy="20.38" rx="1.46" ry="0.77" fill="#9a9a9a" opacity="1" transform="rotate(13.429734054457946 52.71 20.38)"/><ellipse cx="65.48" cy="20.22" rx="1.76" ry="0.92" fill="#8a8a8a" opacity="1" transform="rotate(3.3487740561604995 65.48 20.22)"/><ellipse cx="40.43" cy="54.9" rx="1.91" ry="1.01" fill="#8a8a8a" opacity="1" transform="rotate(178.10134736958233 40.43 54.9)"/><ellipse cx="54.95" cy="26.62" rx="2.14" ry="1.13" fill="#9a9a9a" opacity="1" transform="rotate(97.10831698967012 54.95 26.62)"/><ellipse cx="73.28" cy="33.49" rx="2.62" ry="1.38" fill="#8a8a8a" opacity="1" transform="rotate(99.92706232382757 73.28 33.49)"/><ellipse cx="58.29" cy="5.02" rx="2.06" ry="1.09" fill="#b8b8b8" opacity="1" transform="rotate(85.81828407699876 58.29 5.02)"/><ellipse cx="53.38" cy="1.83" rx="2.24" ry="1.18" fill="#9a9a9a" opacity="1" transform="rotate(175.7346785196288 53.38 1.83)"/><ellipse cx="64.54" cy="21.38" rx="1.69" ry="0.89" fill="#b8b8b8" opacity="1" transform="rotate(121.279107896853 64.54 21.38)"/><ellipse cx="42.55" cy="14.1" rx="1.69" ry="0.89" fill="#9a9a9a" opacity="1" transform="rotate(5.065788094436739 42.55 14.1)"/><ellipse cx="70.9" cy="25.81" rx="1.93" ry="1.02" fill="#9a9a9a" opacity="1" transform="rotate(121.61778388100676 70.9 25.81)"/><ellipse cx="39.74" cy="12.26" rx="2.06" ry="1.09" fill="#9a9a9a" opacity="1" transform="rotate(32.04891498414111 39.74 12.26)"/><ellipse cx="65.84" cy="2.21" rx="1.56" ry="0.82" fill="#aaa" opacity="1" transform="rotate(108.37220590298871 65.84 2.21)"/><ellipse cx="67.04" cy="30.84" rx="1.7" ry="0.89" fill="#aaa" opacity="1" transform="rotate(50.741243526440414 67.04 30.84)"/><ellipse cx="57.05" cy="57.52" rx="1.87" ry="0.98" fill="#9a9a9a" opacity="1" transform="rotate(83.65093489263171 57.05 57.52)"/><ellipse cx="59.95" cy="10.91" rx="2.3" ry="1.21" fill="#9a9a9a" opacity="1" transform="rotate(164.167540589306 59.95 10.91)"/><ellipse cx="38.27" cy="16.1" rx="2.31" ry="1.22" fill="#aaa" opacity="1" transform="rotate(32.31720181916363 38.27 16.1)"/><ellipse cx="69.8" cy="30.08" rx="1.52" ry="0.8" fill="#8a8a8a" opacity="1" transform="rotate(177.08671245702644 69.8 30.08)"/><ellipse cx="77.94" cy="30.22" rx="1.18" ry="0.62" fill="#aaa" opacity="1" transform="rotate(158.7538398931353 77.94 30.22)"/><ellipse cx="64.74" cy="16.77" rx="1.32" ry="0.69" fill="#b8b8b8" opacity="1" transform="rotate(88.15456727788434 64.74 16.77)"/><ellipse cx="52.15" cy="41.07" rx="1.82" ry="0.96" fill="#9a9a9a" opacity="1" transform="rotate(80.78346887557093 52.15 41.07)"/><ellipse cx="62.68" cy="2.76" rx="1.64" ry="0.86" fill="#b8b8b8" opacity="1" transform="rotate(126.84524210228955 62.68 2.76)"/><ellipse cx="46.56" cy="17.1" rx="1.53" ry="0.8" fill="#8a8a8a" opacity="1" transform="rotate(124.9388502903783 46.56 17.1)"/><ellipse cx="43.27" cy="53.19" rx="1.78" ry="0.94" fill="#9a9a9a" opacity="1" transform="rotate(36.048327821122236 43.27 53.19)"/><ellipse cx="56.87" cy="3.53" rx="2.01" ry="1.06" fill="#aaa" opacity="1" transform="rotate(136.87817265880727 56.87 3.53)"/><ellipse cx="54.71" cy="35.31" rx="2.51" ry="1.32" fill="#9a9a9a" opacity="1" transform="rotate(104.4294416922865 54.71 35.31)"/><ellipse cx="51.9" cy="22.11" rx="2.26" ry="1.19" fill="#9a9a9a" opacity="1" transform="rotate(3.0801625846718195 51.9 22.11)"/><ellipse cx="66.41" cy="54.23" rx="2.35" ry="1.24" fill="#8a8a8a" opacity="1" transform="rotate(163.8918454556546 66.41 54.23)"/><ellipse cx="59.4" cy="47.35" rx="1.72" ry="0.9" fill="#8a8a8a" opacity="1" transform="rotate(127.85107123531739 59.4 47.35)"/><ellipse cx="45.56" cy="16.24" rx="2.35" ry="1.23" fill="#b8b8b8" opacity="1" transform="rotate(111.97951681915065 45.56 16.24)"/><ellipse cx="42.99" cy="32.06" rx="2.2" ry="1.16" fill="#b8b8b8" opacity="1" transform="rotate(104.52295917448883 42.99 32.06)"/><ellipse cx="40.87" cy="21.35" rx="1.27" ry="0.67" fill="#aaa" opacity="1" transform="rotate(25.525554147181715 40.87 21.35)"/><ellipse cx="41.62" cy="18.75" rx="2.2" ry="1.16" fill="#b8b8b8" opacity="1" transform="rotate(65.80880844327427 41.62 18.75)"/><ellipse cx="39.19" cy="29.27" rx="1.81" ry="0.95" fill="#9a9a9a" opacity="1" transform="rotate(10.199882538105445 39.19 29.27)"/><ellipse cx="61.77" cy="27.42" rx="2.48" ry="1.31" fill="#8a8a8a" opacity="1" transform="rotate(169.88330602929113 61.77 27.42)"/><ellipse cx="38.31" cy="21.62" rx="1.57" ry="0.82" fill="#9a9a9a" opacity="1" transform="rotate(123.925658448352 38.31 21.62)"/><ellipse cx="49.84" cy="30.98" rx="1.36" ry="0.72" fill="#aaa" opacity="1" transform="rotate(29.22230847274754 49.84 30.98)"/><ellipse cx="56.59" cy="36.39" rx="2.42" ry="1.27" fill="#9a9a9a" opacity="1" transform="rotate(82.83087970863099 56.59 36.39)"/><ellipse cx="69.42" cy="2.95" rx="2.31" ry="1.22" fill="#b8b8b8" opacity="1" transform="rotate(96.83827136304505 69.42 2.95)"/><ellipse cx="68.45" cy="23.72" rx="2.16" ry="1.14" fill="#8a8a8a" opacity="1" transform="rotate(175.03839492154876 68.45 23.72)"/><ellipse cx="60.16" cy="40.85" rx="1.67" ry="0.88" fill="#8a8a8a" opacity="1" transform="rotate(58.00762712592017 60.16 40.85)"/><ellipse cx="58" cy="21.65" rx="1.61" ry="0.85" fill="#9a9a9a" opacity="1" transform="rotate(85.87268814907496 58 21.65)"/><ellipse cx="70.04" cy="8.07" rx="1.89" ry="1" fill="#b8b8b8" opacity="1" transform="rotate(144.64941103504142 70.04 8.07)"/><ellipse cx="3.2" cy="21.08" rx="1.93" ry="1.29" fill="#8a8a8a" opacity="1" transform="rotate(48.80074078085817 3.2 21.08)"/><ellipse cx="7.67" cy="22.02" rx="1.94" ry="1.29" fill="#9a9a9a" opacity="1" transform="rotate(83.99130287142069 7.67 22.02)"/><ellipse cx="26.18" cy="11.81" rx="2.28" ry="1.52" fill="#9a9a9a" opacity="1" transform="rotate(40.187900936204926 26.18 11.81)"/><ellipse cx="27.04" cy="10.74" rx="1.4" ry="0.93" fill="#aaa" opacity="1" transform="rotate(113.69950602150236 27.04 10.74)"/><ellipse cx="4.49" cy="16.54" rx="1.95" ry="1.3" fill="#8a8a8a" opacity="1" transform="rotate(1.9089531697756978 4.49 16.54)"/><ellipse cx="2.1" cy="17.84" rx="1.09" ry="0.73" fill="#9a9a9a" opacity="1" transform="rotate(36.79590563278073 2.1 17.84)"/><ellipse cx="29.34" cy="12.11" rx="2.39" ry="1.59" fill="#9a9a9a" opacity="1" transform="rotate(161.35405487832142 29.34 12.11)"/><ellipse cx="2.83" cy="19.23" rx="2.25" ry="1.5" fill="#aaa" opacity="1" transform="rotate(106.0351502503088 2.83 19.23)"/><ellipse cx="19.01" cy="5.44" rx="1.18" ry="0.79" fill="#9a9a9a" opacity="1" transform="rotate(92.48066202554824 19.01 5.44)"/><ellipse cx="5.82" cy="13.58" rx="1.34" ry="0.9" fill="#9a9a9a" opacity="1" transform="rotate(90.08642245703687 5.82 13.58)"/><ellipse cx="3.07" cy="24.54" rx="1.17" ry="0.78" fill="#9a9a9a" opacity="1" transform="rotate(21.29032377183089 3.07 24.54)"/><ellipse cx="4.85" cy="12.36" rx="1.98" ry="1.32" fill="#aaa" opacity="1" transform="rotate(16.737065289422585 4.85 12.36)"/><ellipse cx="14.41" cy="20.56" rx="1.77" ry="1.18" fill="#9a9a9a" opacity="1" transform="rotate(55.71443056521391 14.41 20.56)"/><ellipse cx="13.79" cy="12.53" rx="2.17" ry="1.44" fill="#9a9a9a" opacity="1" transform="rotate(85.41326888601483 13.79 12.53)"/><ellipse cx="7.09" cy="25.96" rx="2.32" ry="1.55" fill="#8a8a8a" opacity="1" transform="rotate(102.43655447507984 7.09 25.96)"/><ellipse cx="14.67" cy="8" rx="1.65" ry="1.1" fill="#aaa" opacity="1" transform="rotate(73.02361108293991 14.67 8)"/><line x1="26.57" y1="49" x2="4.51" y2="67.34" stroke="#606060" stroke-width="1.2912058363730845" opacity="1" stroke-linecap="round"/><line x1="45.35" y1="65.19" x2="34.59" y2="74.34" stroke="#555" stroke-width="1.218788851108211" opacity="1" stroke-linecap="round"/><line x1="23.14" y1="23.77" x2="2.53" y2="43.35" stroke="#555" stroke-width="1.4957850975208142" opacity="1" stroke-linecap="round"/><line x1="61.69" y1="11.24" x2="38.44" y2="29.46" stroke="#6a6a6a" stroke-width="1.3958192040818895" opacity="1" stroke-linecap="round"/><line x1="50.84" y1="69.98" x2="38.53" y2="79.63" stroke="#606060" stroke-width="1.1920712958197628" opacity="1" stroke-linecap="round"/><line x1="51.83" y1="44.33" x2="38.77" y2="56.75" stroke="#4a4a4a" stroke-width="1.2831867872793734" opacity="1" stroke-linecap="round"/><line x1="48.34" y1="28.93" x2="30.29" y2="44.66" stroke="#6a6a6a" stroke-width="1.3145535906331725" opacity="1" stroke-linecap="round"/><line x1="41.58" y1="52.9" x2="24.92" y2="71.4" stroke="#4a4a4a" stroke-width="1.2215855651049334" opacity="1" stroke-linecap="round"/><line x1="24.06" y1="19.92" x2="11.14" y2="32.69" stroke="#6a6a6a" stroke-width="1.2632992667561918" opacity="1" stroke-linecap="round"/><line x1="29.33" y1="18.1" x2="18.16" y2="28.38" stroke="#606060" stroke-width="1.4319727116575938" opacity="1" stroke-linecap="round"/><line x1="50.73" y1="15.05" x2="33.45" y2="31.47" stroke="#4a4a4a" stroke-width="1.1338132560350642" opacity="1" stroke-linecap="round"/><line x1="47.41" y1="68.8" x2="38.86" y2="78.75" stroke="#4a4a4a" stroke-width="1.283433308841434" opacity="1" stroke-linecap="round"/><line x1="21.37" y1="32.18" x2="-2.2" y2="49.92" stroke="#6a6a6a" stroke-width="1.0218349756541547" opacity="1" stroke-linecap="round"/><line x1="56.26" y1="34.49" x2="46.18" y2="42.73" stroke="#606060" stroke-width="1.3336285896435887" opacity="1" stroke-linecap="round"/><line x1="21.35" y1="46.3" x2="4.06" y2="61.48" stroke="#6a6a6a" stroke-width="1.2498151334868084" opacity="1" stroke-linecap="round"/><line x1="43.49" y1="16.47" x2="24.89" y2="36.48" stroke="#555" stroke-width="1.4403707529256824" opacity="1" stroke-linecap="round"/><line x1="20.5" y1="32.92" x2="-0.42" y2="51.15" stroke="#555" stroke-width="1.4826639999728974" opacity="1" stroke-linecap="round"/><line x1="54.26" y1="51.36" x2="44.78" y2="59.93" stroke="#6a6a6a" stroke-width="0.9729097161056584" opacity="1" stroke-linecap="round"/><line x1="22.5" y1="28.1" x2="13.68" y2="35.79" stroke="#4a4a4a" stroke-width="1.2132110925020176" opacity="1" stroke-linecap="round"/><line x1="55.82" y1="12.5" x2="46.37" y2="22.01" stroke="#4a4a4a" stroke-width="1.0338317722208887" opacity="1" stroke-linecap="round"/><line x1="21.63" y1="56.34" x2="3.24" y2="74.31" stroke="#606060" stroke-width="1.3430240175710635" opacity="1" stroke-linecap="round"/><line x1="21.74" y1="53.35" x2="9.26" y2="62.84" stroke="#606060" stroke-width="1.1133388315420363" opacity="1" stroke-linecap="round"/><ellipse cx="4" cy="10" rx="3" ry="2" fill="#aaa" opacity="1"/><ellipse cx="47" cy="16" rx="3" ry="2.5" fill="#aaa" opacity="1"/><ellipse cx="66" cy="23" rx="3" ry="2.5" fill="#b0b0b0" opacity="1"/><ellipse cx="70" cy="20" rx="2" ry="2" fill="#c0c0c0" opacity="1"/></g><path d="M50.7 31.1L50.7 24.5M47.84 29.45L53.56 26.15M47.84 26.15L53.56 29.45" stroke="#fff" stroke-width="1.5" stroke-linecap="round"/><rect x="5.2" y="68" width="8.5" height="4.9" fill="#fff"/><text filter="url(#lbl)" x="75.8" y="74" text-anchor="end" font-size="14" font-weight="bold" fill="#fff" letter-spacing="0.9" stroke="#111" stroke-width="0.8" paint-order="stroke">75%</text></g></g>
<g transform="translate(383.5 267)"><g clip-path="url(#cp4)"><rect width="78" height="78" fill="#696969"/><g filter="url(#bb4)"><ellipse cx="20" cy="65" rx="6" ry="4" fill="#727272" opacity="1"/><ellipse cx="60" cy="40" rx="12" ry="18" fill="#6e6e6e" opacity="1"/><ellipse cx="26.6" cy="27.2" rx="9" ry="9" fill="#707070" opacity="1"/></g><rect width="78" height="78" filter="url(#nzw)" opacity="0.084"/><rect width="78" height="78" filter="url(#nzk)" opacity="0.084"/><g filter="url(#bl4)"><circle cx="26.6" cy="27.2" r="11.2" fill="none" stroke="#bdbdbd" stroke-width="1.8" opacity="1"/><path d="M32.2 36.9A11.2 11.2 0 0 1 19.4 35.78" stroke="#dcdcdc" stroke-width="2.2" fill="none" opacity="1" stroke-linecap="round"/><path d="M15.57 25.26A11.2 11.2 0 0 1 21 17.5" stroke="#d0d0d0" stroke-width="2" fill="none" opacity="1" stroke-linecap="round"/><circle cx="26.6" cy="27.2" r="1.8" fill="none" stroke="#8a8a8a" stroke-width="1.2" opacity="1"/></g><line x1="5.7" y1="5.8" x2="12.28" y2="12.03" stroke="#fff" stroke-width="2.6"/><path d="M17 16.5L8.63 14.43L14.48 8.26Z" fill="#fff"/><rect x="5.1" y="69.9" width="19.2" height="3.8" fill="#fff"/><text filter="url(#lbl)" x="75.8" y="74" text-anchor="end" font-size="14" font-weight="bold" fill="#fff" letter-spacing="0.9" stroke="#111" stroke-width="0.8" paint-order="stroke">20%</text></g></g>
<g transform="translate(463.5 267)"><g clip-path="url(#cp5)"><rect width="77.5" height="78" fill="#585858"/><rect width="77.5" height="78" filter="url(#nzw)" opacity="0.07"/><rect width="77.5" height="78" filter="url(#nzk)" opacity="0.07"/><g filter="url(#bl5)"><line x1="38.1" y1="5.2" x2="38.1" y2="12.5" stroke="#ececec" stroke-width="2.8" opacity="1" stroke-linecap="round"/><line x1="14.7" y1="25" x2="12.1" y2="32.3" stroke="#e0e0e0" stroke-width="2.6" opacity="1" stroke-linecap="round"/><line x1="33.4" y1="61.1" x2="36.7" y2="70.7" stroke="#b8b8b8" stroke-width="2.2" opacity="1" stroke-linecap="round"/></g><path d="M20.4 33.9L20.4 27.3M17.54 32.25L23.26 28.95M17.54 28.95L23.26 32.25" stroke="#fff" stroke-width="1.5" stroke-linecap="round"/><rect x="5.7" y="69.5" width="15.5" height="3.4" fill="#fff"/><text filter="url(#lbl)" x="75.3" y="74" text-anchor="end" font-size="14" font-weight="bold" fill="#fff" letter-spacing="0.9" stroke="#111" stroke-width="0.8" paint-order="stroke">25%</text></g></g>
<g transform="translate(543 267)"><g clip-path="url(#cp6)"><rect width="78" height="78" fill="#535353"/><rect width="78" height="78" filter="url(#nzw)" opacity="0.07"/><rect width="78" height="78" filter="url(#nzk)" opacity="0.07"/><g filter="url(#bl6)"><ellipse cx="13.1" cy="39.6" rx="7.8" ry="3.4" fill="#b4b4b4" opacity="1" transform="rotate(38 13.1 39.6)"/><ellipse cx="60.5" cy="17.6" rx="7.8" ry="3.4" fill="#bcbcbc" opacity="1" transform="rotate(15 60.5 17.6)"/><ellipse cx="56" cy="22.5" rx="3.8" ry="2.2" fill="#ababab" opacity="1" transform="rotate(-35 56 22.5)"/></g><path d="M43 22.6L43 16M40.14 20.95L45.86 17.65M40.14 17.65L45.86 20.95" stroke="#fff" stroke-width="1.5" stroke-linecap="round"/><rect x="6.9" y="69.2" width="19.2" height="3.2" fill="#fff"/><text filter="url(#lbl)" x="75.8" y="74" text-anchor="end" font-size="14" font-weight="bold" fill="#fff" letter-spacing="0.9" stroke="#111" stroke-width="0.8" paint-order="stroke">30%</text></g></g>
<g transform="translate(623 267)"><g clip-path="url(#cp7)"><rect width="78" height="78" fill="#1e1e1e"/><g filter="url(#bb7)"><ellipse cx="26" cy="24" rx="12" ry="16" fill="#333" opacity="1"/><ellipse cx="22" cy="45" rx="8" ry="8" fill="#3a3a3a" opacity="1"/><ellipse cx="28" cy="62" rx="6" ry="14" fill="#2a2a2a" opacity="1"/></g><rect width="78" height="78" filter="url(#nzw)" opacity="0.056"/><g filter="url(#bl7)"><line x1="21.97" y1="43.97" x2="7" y2="8" stroke="#7a7a7a" stroke-width="1.4" opacity="0.8" stroke-linecap="round"/><line x1="22.49" y1="44.77" x2="11.4" y2="13.7" stroke="#8a8a8a" stroke-width="1.3" opacity="0.8" stroke-linecap="round"/><line x1="22.32" y1="44.69" x2="18.8" y2="9.7" stroke="#707070" stroke-width="1.2" opacity="0.8" stroke-linecap="round"/><line x1="20.19" y1="42.86" x2="36.2" y2="3.5" stroke="#6a6a6a" stroke-width="1.3" opacity="0.8" stroke-linecap="round"/><line x1="22.93" y1="43.6" x2="44.1" y2="8" stroke="#666" stroke-width="1.2" opacity="0.8" stroke-linecap="round"/><line x1="22.8" y1="41.45" x2="53.2" y2="32.9" stroke="#7a7a7a" stroke-width="1.3" opacity="0.8" stroke-linecap="round"/><line x1="21.51" y1="41.99" x2="49.8" y2="49.8" stroke="#6a6a6a" stroke-width="1.2" opacity="0.8" stroke-linecap="round"/><line x1="21.73" y1="43.3" x2="38.5" y2="38.5" stroke="#9a9a9a" stroke-width="1.6" opacity="0.8" stroke-linecap="round"/><line x1="20.14" y1="41.87" x2="32.9" y2="76.9" stroke="#666" stroke-width="1.4" opacity="0.8" stroke-linecap="round"/><line x1="20.94" y1="44.67" x2="27.2" y2="76.9" stroke="#707070" stroke-width="1.3" opacity="0.8" stroke-linecap="round"/><line x1="22.4" y1="41.64" x2="14.8" y2="21.6" stroke="#8a8a8a" stroke-width="1.3" opacity="0.8" stroke-linecap="round"/><line x1="22.49" y1="41.56" x2="30" y2="12" stroke="#707070" stroke-width="1.2" opacity="0.8" stroke-linecap="round"/><line x1="21.95" y1="41.51" x2="24" y2="6" stroke="#606060" stroke-width="1.1" opacity="0.8" stroke-linecap="round"/><line x1="20.11" y1="44.49" x2="4" y2="14" stroke="#6a6a6a" stroke-width="1.1" opacity="0.8" stroke-linecap="round"/><line x1="20.73" y1="41.86" x2="40" y2="30" stroke="#6a6a6a" stroke-width="1.1" opacity="0.8" stroke-linecap="round"/><line x1="23.05" y1="44.49" x2="22" y2="78" stroke="#555" stroke-width="1.1" opacity="0.8" stroke-linecap="round"/><line x1="20.97" y1="44.85" x2="45" y2="58" stroke="#555" stroke-width="1.1" opacity="0.8" stroke-linecap="round"/><line x1="21.6" y1="43" x2="23.69" y2="12.48" stroke="#4a4a4a" stroke-width="1" opacity="0.8" stroke-linecap="round"/><line x1="21.6" y1="43" x2="1.94" y2="11.33" stroke="#4a4a4a" stroke-width="1" opacity="0.8" stroke-linecap="round"/><line x1="21.6" y1="43" x2="47.46" y2="18.6" stroke="#555" stroke-width="1" opacity="0.8" stroke-linecap="round"/><line x1="21.6" y1="43" x2="3.41" y2="26.53" stroke="#4a4a4a" stroke-width="1" opacity="0.8" stroke-linecap="round"/><line x1="21.6" y1="43" x2="12.53" y2="22.26" stroke="#5a5a5a" stroke-width="1" opacity="0.8" stroke-linecap="round"/><line x1="21.6" y1="43" x2="25.9" y2="14.62" stroke="#5a5a5a" stroke-width="1" opacity="0.8" stroke-linecap="round"/><line x1="21.6" y1="43" x2="15.42" y2="21.75" stroke="#555" stroke-width="1" opacity="0.8" stroke-linecap="round"/><line x1="21.6" y1="43" x2="20.85" y2="20.75" stroke="#555" stroke-width="1" opacity="0.8" stroke-linecap="round"/><line x1="21.6" y1="43" x2="20.69" y2="23.97" stroke="#555" stroke-width="1" opacity="0.8" stroke-linecap="round"/><line x1="21.6" y1="43" x2="33.05" y2="32.51" stroke="#5a5a5a" stroke-width="1" opacity="0.8" stroke-linecap="round"/><line x1="21.6" y1="43" x2="15.62" y2="19.45" stroke="#5a5a5a" stroke-width="1" opacity="0.8" stroke-linecap="round"/><line x1="21.6" y1="43" x2="32.87" y2="22.47" stroke="#5a5a5a" stroke-width="1" opacity="0.8" stroke-linecap="round"/><line x1="21.6" y1="43" x2="35.86" y2="21.96" stroke="#5a5a5a" stroke-width="1" opacity="0.8" stroke-linecap="round"/><line x1="21.6" y1="43" x2="2.06" y2="11.62" stroke="#4a4a4a" stroke-width="1" opacity="0.8" stroke-linecap="round"/><ellipse cx="21.6" cy="43" rx="3" ry="2.5" fill="#8a8a8a" opacity="1"/></g><path d="M6 34.1L6 27.5M3.14 32.45L8.86 29.15M3.14 29.15L8.86 32.45" stroke="#fff" stroke-width="1.5" stroke-linecap="round"/><rect x="5.2" y="69.5" width="8.5" height="3.4" fill="#fff"/><text filter="url(#lbl)" x="75.8" y="74" text-anchor="end" font-size="14" fill="#fff" letter-spacing="1.3" stroke="#fff" stroke-width="0.3">35%</text></g></g>
<g transform="translate(11 612)"><g clip-path="url(#cp8)"><rect width="78" height="78" fill="#1a1a1a"/><g filter="url(#bb8)"><ellipse cx="65.2" cy="28.2" rx="5.5" ry="5.5" fill="#333" opacity="1"/><ellipse cx="34.8" cy="31" rx="8" ry="8" fill="#222" opacity="1"/></g><rect width="78" height="78" filter="url(#nzw)" opacity="0.056"/><g filter="url(#bl8)"><ellipse cx="34.8" cy="31" rx="9" ry="8.6" fill="none" stroke="#8a8a8a" stroke-width="1.5"/><path d="M43.07 34.01A8.8 8.8 0 0 1 30.4 38.62" stroke="#b0b0b0" stroke-width="1.6" fill="none" opacity="1" stroke-linecap="round"/><path d="M26.53 34.01A8.8 8.8 0 0 1 26.53 27.99" stroke="#a0a0a0" stroke-width="1.5" fill="none" opacity="1" stroke-linecap="round"/></g><line x1="13.7" y1="10.6" x2="20.8" y2="17.7" stroke="#fff" stroke-width="2.6"/><path d="M25.4 22.3L17.09 20L23.1 13.99Z" fill="#fff"/><rect x="5.2" y="68.7" width="22.6" height="4.3" fill="#fff"/><text filter="url(#lbl)" x="75.8" y="74" text-anchor="end" font-size="14" fill="#fff" letter-spacing="1.3" stroke="#fff" stroke-width="0.3">10%</text></g></g>
<g transform="translate(91 612)"><g clip-path="url(#cp9)"><rect width="78" height="78" fill="#4a4a4a"/><g filter="url(#bb9)"><ellipse cx="39" cy="10.3" rx="7" ry="7" fill="#6a6a6a" opacity="1"/><ellipse cx="60" cy="20" rx="12" ry="16" fill="#464646" opacity="1"/><ellipse cx="20" cy="48" rx="10" ry="10" fill="#474747" opacity="1"/><ellipse cx="19.9" cy="17.1" rx="9" ry="9" fill="#4c4c4c" opacity="1"/></g><rect width="78" height="78" filter="url(#nzw)" opacity="0.28"/><rect width="78" height="78" filter="url(#nzk)" opacity="0.21"/><g filter="url(#bl9)"><circle cx="19.9" cy="17.1" r="10" fill="none" stroke="#8e8e8e" stroke-width="1.4" opacity="1"/><path d="M24.9 8.44A10 10 0 0 1 24.9 25.76" stroke="#b4b4b4" stroke-width="1.6" fill="none" opacity="1" stroke-linecap="round"/><circle cx="39" cy="10.3" r="6" fill="none" stroke="#8a8a8a" stroke-width="1.6" opacity="1"/><ellipse cx="2.4" cy="70.1" rx="3.5" ry="4.5" fill="#d0d0d0" opacity="1"/><circle cx="27" cy="60" r="5" fill="none" stroke="#5a5a5a" stroke-width="1.5" opacity="1"/><circle cx="56" cy="47" r="5" fill="none" stroke="#555" stroke-width="1.3" opacity="1"/></g><line x1="46.4" y1="39.1" x2="39.8" y2="32.79" stroke="#fff" stroke-width="2.6"/><path d="M35.1 28.3L43.46 30.41L37.59 36.55Z" fill="#fff"/><rect x="6.9" y="68.4" width="25.7" height="3.4" fill="#fff"/><text filter="url(#lbl)" x="75.8" y="74" text-anchor="end" font-size="14" font-weight="bold" fill="#fff" letter-spacing="0.9" stroke="#111" stroke-width="0.8" paint-order="stroke">30%</text></g></g>
<g transform="translate(171 612)"><g clip-path="url(#cp10)"><rect width="78" height="78" fill="#262626"/><g filter="url(#bb10)"><ellipse cx="15" cy="20" rx="16" ry="16" fill="#323232" opacity="1"/></g><rect width="78" height="78" filter="url(#nzw)" opacity="0.098"/><g filter="url(#bl10)"><line x1="3.5" y1="19.3" x2="62.2" y2="8" stroke="#8a8a8a" stroke-width="1.7" opacity="1" stroke-linecap="round"/><line x1="25" y1="45.3" x2="72.4" y2="57.7" stroke="#8a8a8a" stroke-width="1.8" opacity="1" stroke-linecap="round"/><line x1="28.3" y1="21.6" x2="15.9" y2="55.4" stroke="#7a7a7a" stroke-width="1.6" opacity="1" stroke-linecap="round"/><line x1="41.9" y1="1.3" x2="32.9" y2="32.9" stroke="#7a7a7a" stroke-width="1.5" opacity="1" stroke-linecap="round"/><line x1="66.7" y1="2.4" x2="73.5" y2="21.6" stroke="#6a6a6a" stroke-width="1.5" opacity="1" stroke-linecap="round"/><line x1="1.3" y1="33" x2="12.5" y2="44" stroke="#6a6a6a" stroke-width="1.5" opacity="1" stroke-linecap="round"/><line x1="2.4" y1="55.4" x2="16" y2="67" stroke="#666" stroke-width="1.5" opacity="1" stroke-linecap="round"/><line x1="10" y1="10" x2="1.3" y2="22" stroke="#777" stroke-width="1.5" opacity="1" stroke-linecap="round"/><line x1="5" y1="25" x2="25" y2="20" stroke="#666" stroke-width="1.4" opacity="1" stroke-linecap="round"/><line x1="12" y1="14" x2="3" y2="40" stroke="#555" stroke-width="1.3" opacity="1" stroke-linecap="round"/><line x1="45" y1="20" x2="35" y2="45" stroke="#555" stroke-width="1.3" opacity="1" stroke-linecap="round"/><line x1="19.12" y1="11.9" x2="40.32" y2="24.09" stroke="#5a5a5a" stroke-width="1.0212237902783936" opacity="1" stroke-linecap="round"/><line x1="32.54" y1="46.35" x2="27.29" y2="67.78" stroke="#4a4a4a" stroke-width="0.975757804360403" opacity="1" stroke-linecap="round"/><line x1="15.65" y1="7.48" x2="8.54" y2="15.9" stroke="#4a4a4a" stroke-width="0.8479274892339537" opacity="1" stroke-linecap="round"/><line x1="39.13" y1="25.53" x2="52.56" y2="41.96" stroke="#4a4a4a" stroke-width="1.0904951940781047" opacity="1" stroke-linecap="round"/><line x1="59.73" y1="5.35" x2="54.52" y2="14.15" stroke="#555" stroke-width="1.075540604891858" opacity="1" stroke-linecap="round"/><line x1="71.25" y1="-3.88" x2="81.63" y2="12.23" stroke="#555" stroke-width="0.9739587601655135" opacity="1" stroke-linecap="round"/><line x1="60.59" y1="-0.24" x2="63.68" y2="9.19" stroke="#4a4a4a" stroke-width="0.9628764540597848" opacity="1" stroke-linecap="round"/><line x1="50.38" y1="34.51" x2="53.1" y2="42.44" stroke="#555" stroke-width="0.8311467840028323" opacity="1" stroke-linecap="round"/><line x1="74.43" y1="24.86" x2="73.11" y2="37.83" stroke="#4a4a4a" stroke-width="1.152141022724653" opacity="1" stroke-linecap="round"/><line x1="46.94" y1="23.17" x2="55.26" y2="27.05" stroke="#4a4a4a" stroke-width="1.088100805468809" opacity="1" stroke-linecap="round"/><line x1="64.46" y1="60.19" x2="41.94" y2="72.68" stroke="#555" stroke-width="1.1579296674998627" opacity="1" stroke-linecap="round"/><line x1="23.79" y1="53.05" x2="40.68" y2="57.69" stroke="#4a4a4a" stroke-width="1.1846710948505554" opacity="1" stroke-linecap="round"/><line x1="25.63" y1="26.6" x2="12.08" y2="41.63" stroke="#606060" stroke-width="1.1155696882307975" opacity="1" stroke-linecap="round"/><line x1="8.1" y1="39.89" x2="4.84" y2="64.4" stroke="#555" stroke-width="0.910784594348809" opacity="1" stroke-linecap="round"/><line x1="77.21" y1="23.67" x2="62.79" y2="27.15" stroke="#5a5a5a" stroke-width="1.1004492862255602" opacity="1" stroke-linecap="round"/><line x1="53.38" y1="14.61" x2="60.82" y2="18.83" stroke="#555" stroke-width="0.9875139405326663" opacity="1" stroke-linecap="round"/><line x1="20.21" y1="67.55" x2="17.35" y2="86.54" stroke="#606060" stroke-width="0.9316280577241307" opacity="1" stroke-linecap="round"/><line x1="5.72" y1="48.01" x2="29.9" y2="57.46" stroke="#555" stroke-width="1.0210216783690005" opacity="1" stroke-linecap="round"/><line x1="49.6" y1="71.98" x2="28.06" y2="79.45" stroke="#4a4a4a" stroke-width="0.8714327650949776" opacity="1" stroke-linecap="round"/><line x1="47.58" y1="8.02" x2="62.94" y2="16.04" stroke="#555" stroke-width="0.9644974462023264" opacity="1" stroke-linecap="round"/><line x1="65.96" y1="73.68" x2="85.78" y2="76.31" stroke="#5a5a5a" stroke-width="0.8856463691046756" opacity="1" stroke-linecap="round"/><line x1="37.64" y1="71.78" x2="24.65" y2="73.62" stroke="#5a5a5a" stroke-width="1.1415731948009498" opacity="1" stroke-linecap="round"/><line x1="53.7" y1="62.09" x2="41.76" y2="67.31" stroke="#606060" stroke-width="0.921290267715366" opacity="1" stroke-linecap="round"/><line x1="55.99" y1="48.14" x2="68.42" y2="59.74" stroke="#606060" stroke-width="0.8932133122796054" opacity="1" stroke-linecap="round"/><line x1="5.99" y1="35.09" x2="22.47" y2="38.89" stroke="#606060" stroke-width="0.8217269558028119" opacity="1" stroke-linecap="round"/><line x1="66.99" y1="52.52" x2="61.83" y2="59.25" stroke="#555" stroke-width="0.965017786035071" opacity="1" stroke-linecap="round"/><line x1="40.83" y1="64.03" x2="36.94" y2="79.24" stroke="#4a4a4a" stroke-width="0.8887264763287185" opacity="1" stroke-linecap="round"/><line x1="59.24" y1="35.63" x2="76.92" y2="44.53" stroke="#606060" stroke-width="0.8108145780367335" opacity="1" stroke-linecap="round"/><line x1="53.37" y1="20.32" x2="75.11" y2="21.95" stroke="#555" stroke-width="0.9543104372195836" opacity="1" stroke-linecap="round"/><line x1="17.26" y1="31.27" x2="11.79" y2="50.93" stroke="#606060" stroke-width="0.825536771320818" opacity="1" stroke-linecap="round"/></g><path d="M33.4 8.5L33.4 1.9M30.54 6.85L36.26 3.55M30.54 3.55L36.26 6.85" stroke="#fff" stroke-width="1.5" stroke-linecap="round"/><rect x="3" y="71.8" width="7.1" height="2.8" fill="#fff"/><text filter="url(#lbl)" x="75.8" y="74" text-anchor="end" font-size="14" fill="#fff" letter-spacing="1.3" stroke="#fff" stroke-width="0.3">35%</text></g></g>
<g transform="translate(251 612)"><g clip-path="url(#cp11)"><rect width="78" height="78" fill="#484848"/><g filter="url(#bb11)"><ellipse cx="60" cy="55" rx="16" ry="12" fill="#5a5a5a" opacity="1"/><ellipse cx="12" cy="40" rx="10" ry="14" fill="#505050" opacity="1"/><ellipse cx="30" cy="8" rx="14" ry="6" fill="#4e4e4e" opacity="1"/><ellipse cx="40" cy="40" rx="10" ry="10" fill="#3c3c3c" opacity="1"/></g><rect width="78" height="78" filter="url(#nzw)" opacity="0.14"/><g filter="url(#bl11)"><ellipse cx="12.87" cy="53.8" rx="1.71" ry="1.07" fill="#909090" opacity="1" transform="rotate(151.79014592530265 12.87 53.8)"/><ellipse cx="77.2" cy="37.02" rx="2.19" ry="1.37" fill="#707070" opacity="1" transform="rotate(90.9151476246021 77.2 37.02)"/><ellipse cx="18.41" cy="0.25" rx="1.33" ry="0.83" fill="#a0a0a0" opacity="1" transform="rotate(77.07440132251125 18.41 0.25)"/><ellipse cx="11.3" cy="58.6" rx="2.13" ry="1.33" fill="#606060" opacity="1" transform="rotate(78.6340655353741 11.3 58.6)"/><ellipse cx="77.64" cy="60.11" rx="1.39" ry="0.87" fill="#909090" opacity="1" transform="rotate(6.132610680295816 77.64 60.11)"/><ellipse cx="25.66" cy="38.81" rx="0.97" ry="0.6" fill="#808080" opacity="1" transform="rotate(4.180347680049756 25.66 38.81)"/><ellipse cx="57.8" cy="6.9" rx="1.96" ry="1.23" fill="#606060" opacity="1" transform="rotate(81.56296692041865 57.8 6.9)"/><ellipse cx="43.06" cy="26.75" rx="1.5" ry="0.94" fill="#707070" opacity="1" transform="rotate(119.71945797417402 43.06 26.75)"/><ellipse cx="36.66" cy="63.97" rx="0.91" ry="0.57" fill="#707070" opacity="1" transform="rotate(37.54119874002771 36.66 63.97)"/><ellipse cx="75.56" cy="69.73" rx="1.89" ry="1.18" fill="#a0a0a0" opacity="1" transform="rotate(177.987447018596 75.56 69.73)"/><ellipse cx="5.53" cy="43.69" rx="1.6" ry="1" fill="#909090" opacity="1" transform="rotate(36.1942961917937 5.53 43.69)"/><ellipse cx="72.01" cy="69.23" rx="1.39" ry="0.87" fill="#808080" opacity="1" transform="rotate(171.8115021380625 72.01 69.23)"/><ellipse cx="39.11" cy="24.8" rx="1.5" ry="0.94" fill="#808080" opacity="1" transform="rotate(4.830419496757639 39.11 24.8)"/><ellipse cx="7.27" cy="56.01" rx="2.23" ry="1.39" fill="#909090" opacity="1" transform="rotate(0.5097585057998266 7.27 56.01)"/><ellipse cx="5.47" cy="46.75" rx="1.55" ry="0.97" fill="#a0a0a0" opacity="1" transform="rotate(109.60225043710624 5.47 46.75)"/><ellipse cx="43.41" cy="48.56" rx="1.06" ry="0.66" fill="#707070" opacity="1" transform="rotate(112.76947261897703 43.41 48.56)"/><ellipse cx="65.03" cy="25.93" rx="1.9" ry="1.19" fill="#808080" opacity="1" transform="rotate(44.23777400396154 65.03 25.93)"/><ellipse cx="13.16" cy="72" rx="1.05" ry="0.66" fill="#909090" opacity="1" transform="rotate(67.47759974583471 13.16 72)"/><ellipse cx="53.3" cy="52.72" rx="2.09" ry="1.31" fill="#707070" opacity="1" transform="rotate(73.2626387864432 53.3 52.72)"/><ellipse cx="77.15" cy="74.99" rx="1.65" ry="1.03" fill="#808080" opacity="1" transform="rotate(88.36413481164054 77.15 74.99)"/><ellipse cx="29.29" cy="19.28" rx="2.06" ry="1.29" fill="#707070" opacity="1" transform="rotate(101.12701410413031 29.29 19.28)"/><ellipse cx="34.26" cy="31.78" rx="1.87" ry="1.17" fill="#606060" opacity="1" transform="rotate(150.65978535888001 34.26 31.78)"/><ellipse cx="4.07" cy="20.12" rx="1.22" ry="0.76" fill="#909090" opacity="1" transform="rotate(44.74701561565205 4.07 20.12)"/><ellipse cx="30.77" cy="67.89" rx="1.73" ry="1.08" fill="#707070" opacity="1" transform="rotate(177.020471000789 30.77 67.89)"/><ellipse cx="58.18" cy="37.36" rx="1.16" ry="0.73" fill="#a0a0a0" opacity="1" transform="rotate(164.06013303361482 58.18 37.36)"/><ellipse cx="37.37" cy="74.32" rx="2.1" ry="1.31" fill="#808080" opacity="1" transform="rotate(143.1392948902509 37.37 74.32)"/><ellipse cx="68.75" cy="46.91" rx="1.41" ry="0.88" fill="#a0a0a0" opacity="1" transform="rotate(162.46597701967931 68.75 46.91)"/><ellipse cx="37.19" cy="10.83" rx="1.65" ry="1.03" fill="#707070" opacity="1" transform="rotate(138.28604094489032 37.19 10.83)"/><ellipse cx="0.8" cy="53.45" rx="2.17" ry="1.36" fill="#606060" opacity="1" transform="rotate(47.59578501331491 0.8 53.45)"/><ellipse cx="25.44" cy="19.48" rx="2.18" ry="1.36" fill="#909090" opacity="1" transform="rotate(46.295418016361175 25.44 19.48)"/><ellipse cx="31.64" cy="74.78" rx="2.1" ry="1.32" fill="#707070" opacity="1" transform="rotate(25.55406121217491 31.64 74.78)"/><ellipse cx="30.96" cy="14.56" rx="1.72" ry="1.08" fill="#707070" opacity="1" transform="rotate(12.940132142011134 30.96 14.56)"/><ellipse cx="9.29" cy="21.94" rx="1.24" ry="0.77" fill="#808080" opacity="1" transform="rotate(71.33063233566297 9.29 21.94)"/><ellipse cx="69.26" cy="48.45" rx="1.06" ry="0.66" fill="#909090" opacity="1" transform="rotate(36.2917654797102 69.26 48.45)"/><ellipse cx="58.05" cy="59.05" rx="1.67" ry="1.04" fill="#a0a0a0" opacity="1" transform="rotate(157.29641731233286 58.05 59.05)"/><ellipse cx="60.39" cy="61.68" rx="0.81" ry="0.51" fill="#909090" opacity="1" transform="rotate(155.6033242600296 60.39 61.68)"/><ellipse cx="31.04" cy="44.22" rx="2.03" ry="1.27" fill="#707070" opacity="1" transform="rotate(45.523070942762 31.04 44.22)"/><ellipse cx="54.35" cy="24.46" rx="0.86" ry="0.54" fill="#909090" opacity="1" transform="rotate(28.11122593055727 54.35 24.46)"/><ellipse cx="56.64" cy="77.26" rx="1.98" ry="1.24" fill="#a0a0a0" opacity="1" transform="rotate(88.2106647691061 56.64 77.26)"/><ellipse cx="44.69" cy="42.54" rx="0.89" ry="0.55" fill="#a0a0a0" opacity="1" transform="rotate(132.2230705492657 44.69 42.54)"/><ellipse cx="75.43" cy="24.19" rx="1.81" ry="1.13" fill="#a0a0a0" opacity="1" transform="rotate(136.4062681862848 75.43 24.19)"/><ellipse cx="14.79" cy="48.08" rx="1.27" ry="0.79" fill="#707070" opacity="1" transform="rotate(63.94065373954685 14.79 48.08)"/><ellipse cx="24.81" cy="77.47" rx="0.95" ry="0.6" fill="#606060" opacity="1" transform="rotate(117.30832914411825 24.81 77.47)"/><ellipse cx="48.87" cy="63" rx="2.21" ry="1.38" fill="#a0a0a0" opacity="1" transform="rotate(111.85040511540421 48.87 63)"/><ellipse cx="1.54" cy="50.28" rx="1.44" ry="0.9" fill="#a0a0a0" opacity="1" transform="rotate(92.34125115046123 1.54 50.28)"/><ellipse cx="68.3" cy="5.49" rx="0.84" ry="0.52" fill="#909090" opacity="1" transform="rotate(7.567198607848919 68.3 5.49)"/><ellipse cx="21.5" cy="45.97" rx="1.38" ry="0.86" fill="#909090" opacity="1" transform="rotate(82.078586247348 21.5 45.97)"/><ellipse cx="18.44" cy="30.06" rx="1.5" ry="0.94" fill="#606060" opacity="1" transform="rotate(6.737642633522327 18.44 30.06)"/><ellipse cx="13.48" cy="29.1" rx="1.67" ry="1.04" fill="#707070" opacity="1" transform="rotate(140.31277672166559 13.48 29.1)"/><ellipse cx="48.89" cy="59.17" rx="1.76" ry="1.1" fill="#a0a0a0" opacity="1" transform="rotate(125.82467502092712 48.89 59.17)"/><ellipse cx="53.27" cy="19.13" rx="2.12" ry="1.33" fill="#909090" opacity="1" transform="rotate(55.07134430593068 53.27 19.13)"/><ellipse cx="29.78" cy="40.89" rx="1.82" ry="1.14" fill="#606060" opacity="1" transform="rotate(29.136828901402104 29.78 40.89)"/><ellipse cx="15.76" cy="68.3" rx="1.83" ry="1.14" fill="#606060" opacity="1" transform="rotate(99.58386563924954 15.76 68.3)"/><ellipse cx="6.2" cy="23.6" rx="2.16" ry="1.35" fill="#909090" opacity="1" transform="rotate(176.94134443610378 6.2 23.6)"/><ellipse cx="77.29" cy="12.98" rx="1.42" ry="0.89" fill="#808080" opacity="1" transform="rotate(66.95552584144407 77.29 12.98)"/><ellipse cx="45.37" cy="14.73" rx="0.92" ry="0.57" fill="#606060" opacity="1" transform="rotate(57.98013279319758 45.37 14.73)"/><ellipse cx="19.83" cy="65.94" rx="1.02" ry="0.64" fill="#a0a0a0" opacity="1" transform="rotate(35.978587440470434 19.83 65.94)"/><ellipse cx="46.64" cy="21.64" rx="1.35" ry="0.84" fill="#909090" opacity="1" transform="rotate(84.05382076131566 46.64 21.64)"/><ellipse cx="34.08" cy="48.13" rx="1.2" ry="0.75" fill="#707070" opacity="1" transform="rotate(120.18028072442254 34.08 48.13)"/><ellipse cx="48.49" cy="7.72" rx="2.2" ry="1.38" fill="#707070" opacity="1" transform="rotate(6.187750720290857 48.49 7.72)"/><ellipse cx="63.21" cy="72.91" rx="1.81" ry="1.13" fill="#606060" opacity="1" transform="rotate(13.478078173222883 63.21 72.91)"/><ellipse cx="45.24" cy="31.06" rx="1.44" ry="0.9" fill="#909090" opacity="1" transform="rotate(43.24091746170475 45.24 31.06)"/><ellipse cx="0.59" cy="42.46" rx="0.94" ry="0.59" fill="#808080" opacity="1" transform="rotate(34.2544905970901 0.59 42.46)"/><ellipse cx="28.9" cy="0.23" rx="1.04" ry="0.65" fill="#a0a0a0" opacity="1" transform="rotate(142.50854361175095 28.9 0.23)"/><ellipse cx="64.14" cy="41.29" rx="0.87" ry="0.54" fill="#707070" opacity="1" transform="rotate(75.0847632626796 64.14 41.29)"/><ellipse cx="68.84" cy="19.06" rx="1.63" ry="1.02" fill="#a0a0a0" opacity="1" transform="rotate(166.52908328319273 68.84 19.06)"/><ellipse cx="68.92" cy="1.37" rx="1.64" ry="1.02" fill="#606060" opacity="1" transform="rotate(78.44172687785185 68.92 1.37)"/><ellipse cx="64.95" cy="77.15" rx="1.75" ry="1.09" fill="#707070" opacity="1" transform="rotate(10.736183297068253 64.95 77.15)"/><ellipse cx="63.59" cy="47.31" rx="1.69" ry="1.06" fill="#909090" opacity="1" transform="rotate(122.26042556777863 63.59 47.31)"/><ellipse cx="52.74" cy="11.91" rx="1.02" ry="0.64" fill="#808080" opacity="1" transform="rotate(53.63785382505541 52.74 11.91)"/><ellipse cx="48.91" cy="69.43" rx="0.9" ry="0.56" fill="#606060" opacity="1" transform="rotate(33.54251974907532 48.91 69.43)"/><ellipse cx="7.66" cy="64.61" rx="1.32" ry="0.82" fill="#808080" opacity="1" transform="rotate(10.576855608656945 7.66 64.61)"/><ellipse cx="2.9" cy="38.61" rx="1.78" ry="1.11" fill="#909090" opacity="1" transform="rotate(28.473681851022786 2.9 38.61)"/><ellipse cx="8.12" cy="72.61" rx="1.58" ry="0.98" fill="#909090" opacity="1" transform="rotate(35.814735921883084 8.12 72.61)"/><ellipse cx="15.1" cy="74.41" rx="1.41" ry="0.88" fill="#808080" opacity="1" transform="rotate(148.90964254313522 15.1 74.41)"/><ellipse cx="16.67" cy="3.16" rx="1.31" ry="0.82" fill="#a0a0a0" opacity="1" transform="rotate(113.94072125167261 16.67 3.16)"/><ellipse cx="50.12" cy="1.64" rx="1.33" ry="0.83" fill="#909090" opacity="1" transform="rotate(29.161877450012422 50.12 1.64)"/><ellipse cx="66.37" cy="62.93" rx="2.11" ry="1.32" fill="#606060" opacity="1" transform="rotate(39.11641852979544 66.37 62.93)"/><ellipse cx="60.66" cy="70.42" rx="1.57" ry="0.98" fill="#606060" opacity="1" transform="rotate(174.6317615797934 60.66 70.42)"/><ellipse cx="30.43" cy="73.46" rx="2.15" ry="1.34" fill="#808080" opacity="1" transform="rotate(2.0241570798835906 30.43 73.46)"/><ellipse cx="27.45" cy="47.86" rx="1.67" ry="1.05" fill="#909090" opacity="1" transform="rotate(116.43478151210142 27.45 47.86)"/><ellipse cx="12.59" cy="72.6" rx="1.57" ry="0.98" fill="#909090" opacity="1" transform="rotate(37.22946376158083 12.59 72.6)"/><ellipse cx="77.85" cy="43.28" rx="1.92" ry="1.2" fill="#808080" opacity="1" transform="rotate(163.82621537824775 77.85 43.28)"/><ellipse cx="18.71" cy="46.75" rx="1.31" ry="0.82" fill="#808080" opacity="1" transform="rotate(103.12289955906327 18.71 46.75)"/><ellipse cx="77.54" cy="71.11" rx="2.17" ry="1.36" fill="#606060" opacity="1" transform="rotate(177.17399731113855 77.54 71.11)"/><ellipse cx="57.72" cy="57.86" rx="1.11" ry="0.69" fill="#a0a0a0" opacity="1" transform="rotate(94.14558519919987 57.72 57.86)"/><ellipse cx="69.82" cy="40.09" rx="0.98" ry="0.61" fill="#707070" opacity="1" transform="rotate(119.19617963110426 69.82 40.09)"/><ellipse cx="47.86" cy="36.24" rx="1.51" ry="0.95" fill="#707070" opacity="1" transform="rotate(117.14018835273275 47.86 36.24)"/><ellipse cx="19.73" cy="33.55" rx="1.34" ry="0.84" fill="#909090" opacity="1" transform="rotate(85.89611863931776 19.73 33.55)"/><ellipse cx="3.16" cy="66.98" rx="1.1" ry="0.69" fill="#808080" opacity="1" transform="rotate(105.55943071287264 3.16 66.98)"/><ellipse cx="62.61" cy="57.45" rx="1.85" ry="1.16" fill="#707070" opacity="1" transform="rotate(67.8371283830193 62.61 57.45)"/><ellipse cx="30.7" cy="0.29" rx="1.76" ry="1.1" fill="#a0a0a0" opacity="1" transform="rotate(53.38912847458335 30.7 0.29)"/><ellipse cx="64.93" cy="35.71" rx="1.5" ry="0.94" fill="#a0a0a0" opacity="1" transform="rotate(146.2278728017385 64.93 35.71)"/><ellipse cx="37.66" cy="4.29" rx="1.33" ry="0.83" fill="#707070" opacity="1" transform="rotate(89.97017428338692 37.66 4.29)"/><ellipse cx="36" cy="30.38" rx="1.71" ry="1.07" fill="#a0a0a0" opacity="1" transform="rotate(129.349204784231 36 30.38)"/><ellipse cx="5.52" cy="20" rx="0.95" ry="0.59" fill="#808080" opacity="1" transform="rotate(132.16622710779617 5.52 20)"/><ellipse cx="35.79" cy="9.74" rx="2.09" ry="1.3" fill="#a0a0a0" opacity="1" transform="rotate(152.58471965771102 35.79 9.74)"/><ellipse cx="69.47" cy="6.02" rx="1.24" ry="0.78" fill="#707070" opacity="1" transform="rotate(26.30882095774825 69.47 6.02)"/><ellipse cx="64.83" cy="20.66" rx="1.78" ry="1.11" fill="#808080" opacity="1" transform="rotate(116.27579286156016 64.83 20.66)"/><ellipse cx="40.09" cy="10.45" rx="1.91" ry="1.19" fill="#909090" opacity="1" transform="rotate(39.215517236210815 40.09 10.45)"/><ellipse cx="53.54" cy="26.14" rx="1.73" ry="1.08" fill="#808080" opacity="1" transform="rotate(1.650787255064956 53.54 26.14)"/><ellipse cx="65.74" cy="22.13" rx="1.18" ry="0.74" fill="#909090" opacity="1" transform="rotate(10.87859065967689 65.74 22.13)"/><ellipse cx="58.98" cy="46.95" rx="1.54" ry="0.96" fill="#707070" opacity="1" transform="rotate(107.0366268366094 58.98 46.95)"/><ellipse cx="34.61" cy="39.05" rx="2.19" ry="1.37" fill="#808080" opacity="1" transform="rotate(77.8529132494218 34.61 39.05)"/><ellipse cx="1.66" cy="74.18" rx="1.01" ry="0.63" fill="#909090" opacity="1" transform="rotate(135.89555531640616 1.66 74.18)"/><ellipse cx="49.59" cy="35.64" rx="1.54" ry="0.96" fill="#707070" opacity="1" transform="rotate(79.04082225332662 49.59 35.64)"/><ellipse cx="18.13" cy="66.47" rx="2.09" ry="1.31" fill="#707070" opacity="1" transform="rotate(139.44398124235767 18.13 66.47)"/><ellipse cx="70.37" cy="58.43" rx="1.3" ry="0.81" fill="#707070" opacity="1" transform="rotate(29.713139999100044 70.37 58.43)"/><ellipse cx="62.33" cy="25.5" rx="1.27" ry="0.8" fill="#707070" opacity="1" transform="rotate(173.6199743201063 62.33 25.5)"/><ellipse cx="35.63" cy="15.75" rx="0.81" ry="0.51" fill="#707070" opacity="1" transform="rotate(152.52241706520147 35.63 15.75)"/><ellipse cx="76.41" cy="45.33" rx="0.88" ry="0.63" fill="#9a9a9a" opacity="1" transform="rotate(33.165656226513555 76.41 45.33)"/><ellipse cx="44.58" cy="64.75" rx="1.42" ry="1.01" fill="#8a8a8a" opacity="1" transform="rotate(41.71346819749368 44.58 64.75)"/><ellipse cx="76.46" cy="52.14" rx="1.85" ry="1.32" fill="#aaa" opacity="1" transform="rotate(123.34686630936794 76.46 52.14)"/><ellipse cx="75.11" cy="66.91" rx="0.92" ry="0.66" fill="#8a8a8a" opacity="1" transform="rotate(106.12004702921993 75.11 66.91)"/><ellipse cx="51.81" cy="47.23" rx="2.27" ry="1.62" fill="#aaa" opacity="1" transform="rotate(95.55165088801087 51.81 47.23)"/><ellipse cx="67.7" cy="77.36" rx="2.44" ry="1.74" fill="#8a8a8a" opacity="1" transform="rotate(125.70935546426533 67.7 77.36)"/><ellipse cx="63.27" cy="49.82" rx="2.45" ry="1.75" fill="#9a9a9a" opacity="1" transform="rotate(162.13177636712584 63.27 49.82)"/><ellipse cx="73.09" cy="76.33" rx="1.71" ry="1.22" fill="#9a9a9a" opacity="1" transform="rotate(148.54067257574704 73.09 76.33)"/><ellipse cx="65.37" cy="47.03" rx="0.92" ry="0.66" fill="#aaa" opacity="1" transform="rotate(162.22046796834155 65.37 47.03)"/><ellipse cx="55.94" cy="49.56" rx="1.32" ry="0.94" fill="#9a9a9a" opacity="1" transform="rotate(71.50866284206485 55.94 49.56)"/><ellipse cx="75.13" cy="47.02" rx="1.79" ry="1.28" fill="#9a9a9a" opacity="1" transform="rotate(104.86689585847084 75.13 47.02)"/><ellipse cx="51.3" cy="62.63" rx="1.75" ry="1.25" fill="#9a9a9a" opacity="1" transform="rotate(136.3583386032491 51.3 62.63)"/><ellipse cx="74.17" cy="56.24" rx="0.99" ry="0.71" fill="#9a9a9a" opacity="1" transform="rotate(64.02594266640243 74.17 56.24)"/><ellipse cx="56.41" cy="55.31" rx="2.4" ry="1.72" fill="#8a8a8a" opacity="1" transform="rotate(92.15882452557923 56.41 55.31)"/><ellipse cx="55.23" cy="43.67" rx="2.34" ry="1.67" fill="#8a8a8a" opacity="1" transform="rotate(5.427498954480015 55.23 43.67)"/><ellipse cx="54.3" cy="46.8" rx="2.37" ry="1.69" fill="#aaa" opacity="1" transform="rotate(34.42686006311534 54.3 46.8)"/><ellipse cx="41.41" cy="60.35" rx="2.18" ry="1.56" fill="#aaa" opacity="1" transform="rotate(133.02762982451426 41.41 60.35)"/><ellipse cx="64.91" cy="43.84" rx="1.17" ry="0.83" fill="#8a8a8a" opacity="1" transform="rotate(149.0581349027322 64.91 43.84)"/><ellipse cx="75" cy="57.5" rx="2.26" ry="1.62" fill="#9a9a9a" opacity="1" transform="rotate(127.37421895796052 75 57.5)"/><ellipse cx="45.15" cy="50.8" rx="1.99" ry="1.42" fill="#9a9a9a" opacity="1" transform="rotate(85.71103074331371 45.15 50.8)"/><ellipse cx="42.5" cy="67.14" rx="2.44" ry="1.75" fill="#8a8a8a" opacity="1" transform="rotate(147.56313551506778 42.5 67.14)"/><ellipse cx="63.12" cy="75.82" rx="0.87" ry="0.62" fill="#aaa" opacity="1" transform="rotate(63.0447336601006 63.12 75.82)"/><ellipse cx="42.43" cy="43.7" rx="1.9" ry="1.35" fill="#aaa" opacity="1" transform="rotate(78.19186677031063 42.43 43.7)"/><ellipse cx="50.22" cy="41.59" rx="2.46" ry="1.76" fill="#9a9a9a" opacity="1" transform="rotate(122.19029427510823 50.22 41.59)"/><ellipse cx="77.74" cy="60.31" rx="1.66" ry="1.18" fill="#8a8a8a" opacity="1" transform="rotate(32.51762557176544 77.74 60.31)"/><ellipse cx="50.5" cy="43.7" rx="1.63" ry="1.16" fill="#8a8a8a" opacity="1" transform="rotate(72.4974426771972 50.5 43.7)"/><ellipse cx="44.47" cy="74.51" rx="1.72" ry="1.23" fill="#8a8a8a" opacity="1" transform="rotate(6.890752187265548 44.47 74.51)"/><ellipse cx="54.35" cy="72.26" rx="0.9" ry="0.64" fill="#8a8a8a" opacity="1" transform="rotate(135.67185378222507 54.35 72.26)"/><ellipse cx="64.13" cy="41.87" rx="2" ry="1.43" fill="#9a9a9a" opacity="1" transform="rotate(83.60310618351463 64.13 41.87)"/><ellipse cx="49.46" cy="48.77" rx="1.29" ry="0.92" fill="#8a8a8a" opacity="1" transform="rotate(167.54358753439848 49.46 48.77)"/><circle cx="43.6" cy="28.3" r="4.5" fill="none" stroke="#d4d4d4" stroke-width="2.2" opacity="1"/><line x1="55.4" y1="15.9" x2="62.2" y2="5.8" stroke="#ececec" stroke-width="2.8" opacity="1" stroke-linecap="round"/><line x1="60.5" y1="20.4" x2="58.8" y2="32.9" stroke="#e4e4e4" stroke-width="2.8" opacity="1" stroke-linecap="round"/><line x1="16.5" y1="36.2" x2="19.9" y2="40.8" stroke="#d0d0d0" stroke-width="2.4" opacity="1" stroke-linecap="round"/><line x1="17" y1="13" x2="24" y2="11" stroke="#aaa" stroke-width="2" opacity="1" stroke-linecap="round"/><line x1="26" y1="25" x2="36" y2="25" stroke="#999" stroke-width="1.6" opacity="1" stroke-linecap="round"/></g><path d="M61.6 8.5L61.6 1.9M58.74 6.85L64.46 3.55M58.74 3.55L64.46 6.85" stroke="#fff" stroke-width="1.5" stroke-linecap="round"/><rect x="3" y="70.3" width="11.2" height="3.4" fill="#fff"/><text filter="url(#lbl)" x="75.8" y="74" text-anchor="end" font-size="14" font-weight="bold" fill="#fff" letter-spacing="0.9" stroke="#111" stroke-width="0.8" paint-order="stroke">40%</text></g></g>
<g transform="translate(383.5 612)"><g clip-path="url(#cp12)"><rect width="78" height="78" fill="#3a3a3a"/><g filter="url(#bb12)"><ellipse cx="15" cy="50" rx="10" ry="10" fill="#434343" opacity="1"/><ellipse cx="40" cy="10" rx="10" ry="8" fill="#3f3f3f" opacity="1"/><ellipse cx="51.4" cy="49.4" rx="10" ry="10" fill="#333" opacity="1"/></g><rect width="78" height="78" filter="url(#nzw)" opacity="0.175"/><rect width="78" height="78" filter="url(#nzk)" opacity="0.14"/><g filter="url(#bl12)"><circle cx="51.4" cy="49.4" r="11.8" fill="none" stroke="#a4a4a4" stroke-width="1.8" opacity="1"/><path d="M49.35 61.02A11.8 11.8 0 0 1 40.31 45.36" stroke="#c0c0c0" stroke-width="2" fill="none" opacity="1" stroke-linecap="round"/><circle cx="18.9" cy="10.6" r="7.5" fill="none" stroke="#8a8a8a" stroke-width="1.8" opacity="1"/><path d="M13.15 15.42A7.5 7.5 0 0 1 13.15 5.78" stroke="#d0d0d0" stroke-width="2.2" fill="none" opacity="1" stroke-linecap="round"/><ellipse cx="51.4" cy="49.4" rx="1.5" ry="1.5" fill="#666" opacity="1"/><circle cx="30" cy="20" r="6" fill="none" stroke="#4a4a4a" stroke-width="1.3" opacity="1"/></g><line x1="27.4" y1="29.6" x2="34.67" y2="36.44" stroke="#fff" stroke-width="2.6"/><path d="M39.4 40.9L31.03 38.85L36.85 32.66Z" fill="#fff"/><rect x="5.5" y="69.8" width="21.9" height="3.8" fill="#fff"/><text filter="url(#lbl)" x="75.8" y="74" text-anchor="end" font-size="14" font-weight="bold" fill="#fff" letter-spacing="0.9" stroke="#111" stroke-width="0.8" paint-order="stroke">50%</text></g></g>
<g transform="translate(463.5 612)"><g clip-path="url(#cp13)"><rect width="77.5" height="78" fill="#3b3b3b"/><g filter="url(#bb13)"><ellipse cx="19" cy="46" rx="6" ry="4" fill="#555" opacity="1"/><ellipse cx="25" cy="10" rx="10" ry="6" fill="#444" opacity="1"/><ellipse cx="10" cy="25" rx="6" ry="8" fill="#424242" opacity="1"/><ellipse cx="59.3" cy="15.9" rx="9" ry="9" fill="#333" opacity="1"/></g><rect width="77.5" height="78" filter="url(#nzw)" opacity="0.175"/><rect width="77.5" height="78" filter="url(#nzk)" opacity="0.14"/><g filter="url(#bl13)"><circle cx="59.3" cy="15.9" r="11.2" fill="none" stroke="#a0a0a0" stroke-width="1.8" opacity="1"/><path d="M49.6 21.5A11.2 11.2 0 0 1 48.78 12.07" stroke="#d0d0d0" stroke-width="2.2" fill="none" opacity="1" stroke-linecap="round"/><circle cx="59.3" cy="15.9" r="2" fill="none" stroke="#999" stroke-width="1.4" opacity="1"/><circle cx="33.4" cy="69" r="5.5" fill="none" stroke="#6a6a6a" stroke-width="1.6" opacity="1"/><ellipse cx="33.4" cy="69" rx="1.5" ry="1.5" fill="#888" opacity="1"/><ellipse cx="19" cy="46" rx="2" ry="1.5" fill="#888" opacity="1"/></g><line x1="36.7" y1="39.1" x2="43.4" y2="32.4" stroke="#fff" stroke-width="2.6"/><path d="M48 27.8L45.7 36.11L39.69 30.1Z" fill="#fff"/><rect x="5.1" y="69.5" width="20.1" height="3.8" fill="#fff"/><text filter="url(#lbl)" x="75.3" y="74" text-anchor="end" font-size="14" font-weight="bold" fill="#fff" letter-spacing="0.9" stroke="#111" stroke-width="0.8" paint-order="stroke">60%</text></g></g>
<g transform="translate(543 612)"><g clip-path="url(#cp14)"><rect width="78" height="78" fill="#333"/><g filter="url(#bb14)"><ellipse cx="50" cy="48" rx="8" ry="8" fill="#3e3e3e" opacity="1"/><ellipse cx="70" cy="10" rx="8" ry="8" fill="#3a3a3a" opacity="1"/><ellipse cx="20" cy="20" rx="10" ry="10" fill="#3a3a3a" opacity="1"/></g><rect width="78" height="78" filter="url(#nzw)" opacity="0.196"/><rect width="78" height="78" filter="url(#nzk)" opacity="0.14"/><g filter="url(#bl14)"><line x1="47.5" y1="3.5" x2="56.6" y2="13.7" stroke="#d8d8d8" stroke-width="3.8" opacity="1" stroke-linecap="round"/><line x1="50.9" y1="32.9" x2="65.6" y2="43.6" stroke="#d4d4d4" stroke-width="3" opacity="1" stroke-linecap="round"/><line x1="6.3" y1="14.8" x2="7.5" y2="25" stroke="#b0b0b0" stroke-width="2.4" opacity="1" stroke-linecap="round"/><ellipse cx="3.5" cy="42" rx="1.8" ry="2" fill="#bbb" opacity="1"/><line x1="36.2" y1="22.7" x2="39.6" y2="27.2" stroke="#bbb" stroke-width="2.6" opacity="1" stroke-linecap="round"/><ellipse cx="33" cy="15" rx="3" ry="2.5" fill="#8a8a8a" opacity="1"/><circle cx="18" cy="62" r="8" fill="none" stroke="#555" stroke-width="1.6" opacity="1"/><ellipse cx="77" cy="33" rx="1.5" ry="2" fill="#ccc" opacity="1"/><ellipse cx="28" cy="12" rx="2" ry="2" fill="#777" opacity="1"/></g><path d="M61.6 31.9L61.6 25.3M58.74 30.25L64.46 26.95M58.74 26.95L64.46 30.25" stroke="#fff" stroke-width="1.5" stroke-linecap="round"/><rect x="6" y="68.4" width="19.2" height="4.5" fill="#fff"/><text filter="url(#lbl)" x="75.8" y="74" text-anchor="end" font-size="14" font-weight="bold" fill="#fff" letter-spacing="0.9" stroke="#111" stroke-width="0.8" paint-order="stroke">65%</text></g></g>
<g transform="translate(623 612)"><g clip-path="url(#cp15)"><rect width="78" height="78" fill="#333"/><g filter="url(#bb15)"><ellipse cx="40" cy="40" rx="25" ry="25" fill="#333" opacity="1"/></g><rect width="78" height="78" filter="url(#nzw)" opacity="0.14"/><g filter="url(#bl15)"><line x1="1.68" y1="6.82" x2="4.13" y2="13.82" stroke="#666" stroke-width="2.1502674871120124" opacity="1" stroke-linecap="round"/><line x1="37.57" y1="52.76" x2="45.64" y2="56.54" stroke="#5a5a5a" stroke-width="1.8621666555152632" opacity="1" stroke-linecap="round"/><line x1="11.61" y1="38.65" x2="12.6" y2="44.63" stroke="#555" stroke-width="1.2931113892655686" opacity="1" stroke-linecap="round"/><line x1="2.76" y1="69.16" x2="4.26" y2="73.93" stroke="#707070" stroke-width="1.5919396576650047" opacity="1" stroke-linecap="round"/><line x1="48.13" y1="17.93" x2="44.2" y2="22.56" stroke="#555" stroke-width="1.260052975667589" opacity="1" stroke-linecap="round"/><line x1="3.66" y1="14.34" x2="7.98" y2="16.29" stroke="#7a7a7a" stroke-width="1.230369714544064" opacity="1" stroke-linecap="round"/><line x1="57.56" y1="63.99" x2="55.23" y2="68.52" stroke="#7a7a7a" stroke-width="1.929818257447122" opacity="1" stroke-linecap="round"/><line x1="14.72" y1="48.09" x2="17.97" y2="50.76" stroke="#707070" stroke-width="1.4933732817645577" opacity="1" stroke-linecap="round"/><line x1="45.59" y1="35.17" x2="43.05" y2="40.14" stroke="#666" stroke-width="2.1764307793174895" opacity="1" stroke-linecap="round"/><line x1="74.12" y1="58.45" x2="76.91" y2="62.45" stroke="#555" stroke-width="2.1359623085395905" opacity="1" stroke-linecap="round"/><line x1="62.26" y1="22.76" x2="65.81" y2="24.91" stroke="#555" stroke-width="1.5747313819480497" opacity="1" stroke-linecap="round"/><line x1="71.09" y1="49.39" x2="74.55" y2="53.7" stroke="#666" stroke-width="1.3139949668556454" opacity="1" stroke-linecap="round"/><line x1="16.36" y1="24.69" x2="17.63" y2="28.73" stroke="#5a5a5a" stroke-width="1.467692261180773" opacity="1" stroke-linecap="round"/><line x1="69.09" y1="48.84" x2="64.13" y2="49.45" stroke="#666" stroke-width="1.9134597524266226" opacity="1" stroke-linecap="round"/><line x1="65.18" y1="33.23" x2="65.23" y2="41.17" stroke="#707070" stroke-width="2.0603752953738006" opacity="1" stroke-linecap="round"/><line x1="75.79" y1="34.31" x2="73.47" y2="42.25" stroke="#7a7a7a" stroke-width="1.3379310026563696" opacity="1" stroke-linecap="round"/><line x1="59.56" y1="52.95" x2="51.75" y2="53.61" stroke="#707070" stroke-width="1.689754369597877" opacity="1" stroke-linecap="round"/><line x1="58.19" y1="35.25" x2="61.49" y2="38.29" stroke="#555" stroke-width="1.482519962235111" opacity="1" stroke-linecap="round"/><line x1="11.19" y1="3.75" x2="18.88" y2="6.93" stroke="#5a5a5a" stroke-width="2.123366513952247" opacity="1" stroke-linecap="round"/><line x1="71.74" y1="59.69" x2="63.52" y2="61.08" stroke="#666" stroke-width="1.7544928718719732" opacity="1" stroke-linecap="round"/><line x1="45.32" y1="37.41" x2="41.34" y2="42.57" stroke="#666" stroke-width="1.7240399628477663" opacity="1" stroke-linecap="round"/><line x1="57.06" y1="33.69" x2="53.07" y2="38.61" stroke="#666" stroke-width="1.5715742016097844" opacity="1" stroke-linecap="round"/><line x1="38.42" y1="26.12" x2="42.93" y2="29.21" stroke="#7a7a7a" stroke-width="1.7797439424142754" opacity="1" stroke-linecap="round"/><line x1="11.45" y1="64.02" x2="17.15" y2="66.25" stroke="#666" stroke-width="1.4455101414077072" opacity="1" stroke-linecap="round"/><line x1="69.91" y1="16.22" x2="64.7" y2="18.09" stroke="#555" stroke-width="1.442747932071399" opacity="1" stroke-linecap="round"/><line x1="61.42" y1="55.32" x2="57.85" y2="57.47" stroke="#555" stroke-width="2.027870077605484" opacity="1" stroke-linecap="round"/><line x1="21.52" y1="38.02" x2="23.05" y2="45.37" stroke="#666" stroke-width="1.6012828248246085" opacity="1" stroke-linecap="round"/><line x1="60.45" y1="28.95" x2="64.56" y2="31.91" stroke="#707070" stroke-width="1.497028010322666" opacity="1" stroke-linecap="round"/><line x1="69.55" y1="7.54" x2="76.44" y2="13.09" stroke="#555" stroke-width="1.8936010232532463" opacity="1" stroke-linecap="round"/><line x1="69.41" y1="32.21" x2="66.05" y2="38.68" stroke="#7a7a7a" stroke-width="1.2337454309167561" opacity="1" stroke-linecap="round"/><line x1="37.54" y1="21.98" x2="37.87" y2="26" stroke="#5a5a5a" stroke-width="1.4772334469830932" opacity="1" stroke-linecap="round"/><line x1="24.62" y1="22.14" x2="19.71" y2="23.93" stroke="#707070" stroke-width="1.6034485958051383" opacity="1" stroke-linecap="round"/><line x1="60.84" y1="15.36" x2="58.17" y2="23.15" stroke="#555" stroke-width="1.9683216506222774" opacity="1" stroke-linecap="round"/><line x1="66.14" y1="49.98" x2="63.64" y2="53.24" stroke="#555" stroke-width="1.6924422572635316" opacity="1" stroke-linecap="round"/><line x1="27.25" y1="36.2" x2="22.05" y2="37.2" stroke="#7a7a7a" stroke-width="1.5980012139469657" opacity="1" stroke-linecap="round"/><line x1="19.38" y1="66.19" x2="16.22" y2="69.02" stroke="#555" stroke-width="1.4423084300688118" opacity="1" stroke-linecap="round"/><line x1="57.9" y1="5.03" x2="50.56" y2="6.09" stroke="#707070" stroke-width="1.472941000634459" opacity="1" stroke-linecap="round"/><line x1="8.02" y1="39.37" x2="11.96" y2="45.93" stroke="#7a7a7a" stroke-width="1.3406928879467694" opacity="1" stroke-linecap="round"/><line x1="2.53" y1="24.71" x2="8.52" y2="25.56" stroke="#555" stroke-width="2.0614291283520574" opacity="1" stroke-linecap="round"/><line x1="42.34" y1="4.49" x2="42.47" y2="10.86" stroke="#707070" stroke-width="1.6800485578077258" opacity="1" stroke-linecap="round"/><line x1="41.25" y1="51.49" x2="33.5" y2="53.99" stroke="#707070" stroke-width="1.4351484683808509" opacity="1" stroke-linecap="round"/><line x1="73.63" y1="32.5" x2="77.35" y2="40.35" stroke="#7a7a7a" stroke-width="2.1097450887384603" opacity="1" stroke-linecap="round"/><line x1="24.74" y1="26.58" x2="26.96" y2="35.01" stroke="#7a7a7a" stroke-width="1.2388408816075178" opacity="1" stroke-linecap="round"/><line x1="54.82" y1="31.52" x2="57.28" y2="39.22" stroke="#555" stroke-width="2.110007084299739" opacity="1" stroke-linecap="round"/><line x1="36.13" y1="41.19" x2="31.24" y2="45.11" stroke="#666" stroke-width="2.071081930290564" opacity="1" stroke-linecap="round"/><line x1="21.75" y1="52.39" x2="27.64" y2="56.57" stroke="#7a7a7a" stroke-width="1.4285830026485449" opacity="1" stroke-linecap="round"/><line x1="26.55" y1="70.3" x2="27.92" y2="75.7" stroke="#707070" stroke-width="1.7978188771036825" opacity="1" stroke-linecap="round"/><line x1="59.19" y1="32.31" x2="66.28" y2="33.88" stroke="#707070" stroke-width="2.0129676945971395" opacity="1" stroke-linecap="round"/><line x1="76.8" y1="8.92" x2="70.06" y2="12.31" stroke="#707070" stroke-width="1.4659836684510532" opacity="1" stroke-linecap="round"/><line x1="57.52" y1="33.43" x2="61.86" y2="34.52" stroke="#555" stroke-width="2.0702880478351804" opacity="1" stroke-linecap="round"/><line x1="36.8" y1="10.26" x2="37.76" y2="14.94" stroke="#707070" stroke-width="1.800967879008598" opacity="1" stroke-linecap="round"/><line x1="25.81" y1="60.76" x2="24.61" y2="68.54" stroke="#5a5a5a" stroke-width="1.8899260707726522" opacity="1" stroke-linecap="round"/><line x1="65.95" y1="60.4" x2="62.96" y2="64.58" stroke="#555" stroke-width="1.7920924662415103" opacity="1" stroke-linecap="round"/><line x1="59.32" y1="17.59" x2="58.2" y2="25.45" stroke="#555" stroke-width="1.64140597091978" opacity="1" stroke-linecap="round"/><line x1="27.54" y1="43.54" x2="23.49" y2="50.14" stroke="#555" stroke-width="1.3682068046069071" opacity="1" stroke-linecap="round"/><line x1="56.68" y1="12.1" x2="49.14" y2="13.05" stroke="#666" stroke-width="1.6258820001287115" opacity="1" stroke-linecap="round"/><line x1="73.67" y1="11.05" x2="73.39" y2="18.45" stroke="#555" stroke-width="1.555716666588312" opacity="1" stroke-linecap="round"/><line x1="33.22" y1="66.92" x2="28.39" y2="69.91" stroke="#7a7a7a" stroke-width="1.5718505253136308" opacity="1" stroke-linecap="round"/><line x1="58.28" y1="52.56" x2="58.57" y2="58.09" stroke="#666" stroke-width="1.9078059918847794" opacity="1" stroke-linecap="round"/><line x1="54.68" y1="42.11" x2="58.54" y2="49.44" stroke="#5a5a5a" stroke-width="1.9536828510260795" opacity="1" stroke-linecap="round"/><line x1="5.82" y1="15.12" x2="9.64" y2="20.5" stroke="#ccc" stroke-width="1.3218894321338572" opacity="1" stroke-linecap="round"/><line x1="4.03" y1="24.64" x2="5.67" y2="27.42" stroke="#ccc" stroke-width="1.6338646049878824" opacity="1" stroke-linecap="round"/><line x1="0.65" y1="57.3" x2="3.46" y2="58.48" stroke="#aaa" stroke-width="2.0529197764325664" opacity="1" stroke-linecap="round"/><line x1="70.87" y1="16.48" x2="74.24" y2="17.36" stroke="#ddd" stroke-width="1.400732858888123" opacity="1" stroke-linecap="round"/><line x1="12.25" y1="3.24" x2="15.36" y2="3.73" stroke="#bbb" stroke-width="1.5041080403845124" opacity="1" stroke-linecap="round"/><line x1="36.57" y1="53.34" x2="36.69" y2="58.47" stroke="#bbb" stroke-width="1.8116698430357292" opacity="1" stroke-linecap="round"/><line x1="45.13" y1="57.1" x2="44.07" y2="60.88" stroke="#bbb" stroke-width="1.370813598629921" opacity="1" stroke-linecap="round"/><line x1="49.28" y1="61.98" x2="52.84" y2="66.54" stroke="#ccc" stroke-width="1.3082051845745661" opacity="1" stroke-linecap="round"/><line x1="18.56" y1="13.97" x2="12.1" y2="14.14" stroke="#aaa" stroke-width="1.8955708677612684" opacity="1" stroke-linecap="round"/><line x1="4.9" y1="22.58" x2="6.24" y2="26.11" stroke="#999" stroke-width="1.7407370917950913" opacity="1" stroke-linecap="round"/><line x1="38.18" y1="38.91" x2="40.47" y2="42.72" stroke="#ccc" stroke-width="2.158973004240024" opacity="1" stroke-linecap="round"/><line x1="66.03" y1="45.22" x2="65.63" y2="50.24" stroke="#aaa" stroke-width="1.6451572599902087" opacity="1" stroke-linecap="round"/><line x1="47.89" y1="27.68" x2="42.03" y2="31.19" stroke="#aaa" stroke-width="1.8437517592005745" opacity="1" stroke-linecap="round"/><line x1="61" y1="48.98" x2="64.63" y2="50.66" stroke="#999" stroke-width="1.7492833541679973" opacity="1" stroke-linecap="round"/><line x1="11.62" y1="1.28" x2="8.32" y2="2.89" stroke="#bbb" stroke-width="1.9999152874235149" opacity="1" stroke-linecap="round"/><line x1="31.78" y1="15.46" x2="33.91" y2="22.04" stroke="#ccc" stroke-width="1.449668871955372" opacity="1" stroke-linecap="round"/><line x1="31.2" y1="5.4" x2="26.91" y2="10.82" stroke="#aaa" stroke-width="1.4168081224116031" opacity="1" stroke-linecap="round"/><line x1="54.39" y1="19.51" x2="51.99" y2="23.28" stroke="#999" stroke-width="2.038970777319213" opacity="1" stroke-linecap="round"/><line x1="3.31" y1="72.62" x2="5.84" y2="74.25" stroke="#ddd" stroke-width="1.9492855763313672" opacity="1" stroke-linecap="round"/><line x1="51.29" y1="57.08" x2="52.59" y2="60.28" stroke="#bbb" stroke-width="1.4714690823725836" opacity="1" stroke-linecap="round"/><line x1="51.07" y1="12.04" x2="49.88" y2="15.05" stroke="#999" stroke-width="1.304974220083026" opacity="1" stroke-linecap="round"/><line x1="63.63" y1="19.02" x2="63.09" y2="22.49" stroke="#999" stroke-width="1.9543765879778157" opacity="1" stroke-linecap="round"/><line x1="12.08" y1="16.61" x2="9.77" y2="20.3" stroke="#999" stroke-width="1.5745216021714437" opacity="1" stroke-linecap="round"/><line x1="16.8" y1="18.15" x2="14.07" y2="20.18" stroke="#999" stroke-width="2.1791571975880495" opacity="1" stroke-linecap="round"/><line x1="21.85" y1="23.6" x2="18.71" y2="27.53" stroke="#aaa" stroke-width="1.854224935814906" opacity="1" stroke-linecap="round"/><line x1="0.06" y1="53.02" x2="5.3" y2="53.21" stroke="#999" stroke-width="1.9767847012588762" opacity="1" stroke-linecap="round"/><line x1="17.32" y1="5.91" x2="13" y2="11" stroke="#ccc" stroke-width="1.8108290033465475" opacity="1" stroke-linecap="round"/><line x1="8.18" y1="48.73" x2="3.69" y2="50.41" stroke="#aaa" stroke-width="2.082224793564434" opacity="1" stroke-linecap="round"/><ellipse cx="37" cy="6" rx="1.8" ry="3.5" fill="#ddd" opacity="1" transform="rotate(15 37 6)"/><ellipse cx="23" cy="37" rx="1.5" ry="4" fill="#ccc" opacity="1" transform="rotate(-30 23 37)"/><ellipse cx="72" cy="23" rx="3" ry="1.8" fill="#ccc" opacity="1"/><ellipse cx="53" cy="21" rx="1.8" ry="2.5" fill="#bbb" opacity="1"/></g><path d="M28.6 28.5L28.6 21.9M25.74 26.85L31.46 23.55M25.74 23.55L31.46 26.85" stroke="#fff" stroke-width="1.5" stroke-linecap="round"/><rect x="6" y="69.5" width="18" height="4" fill="#fff"/><text filter="url(#lbl)" x="75.8" y="74" text-anchor="end" font-size="14" font-weight="bold" fill="#fff" letter-spacing="0.9" stroke="#111" stroke-width="0.8" paint-order="stroke">70%</text></g></g>
<g transform="translate(11 961)"><g clip-path="url(#cp16)"><rect width="78" height="78" fill="#585858"/><g filter="url(#bb16)"><ellipse cx="30.6" cy="29.9" rx="14" ry="14" fill="#565656" opacity="1"/></g><rect width="78" height="78" filter="url(#nzw)" opacity="0.21"/><rect width="78" height="78" filter="url(#nzk)" opacity="0.21"/><g filter="url(#bl16)"><circle cx="30.6" cy="29.9" r="18.5" fill="none" stroke="#878787" stroke-width="1.6" opacity="1"/><path d="M27.39 48.12A18.5 18.5 0 0 1 13.22 23.57" stroke="#a8a8a8" stroke-width="2" fill="none" opacity="1" stroke-linecap="round"/><path d="M33.81 11.68A18.5 18.5 0 0 1 46.62 20.65" stroke="#999" stroke-width="1.8" fill="none" opacity="1" stroke-linecap="round"/></g><rect x="4.2" y="70.1" width="22.9" height="4.2" fill="#fff"/><text filter="url(#lbl)" x="75.8" y="74" text-anchor="end" font-size="14" font-weight="bold" fill="#fff" letter-spacing="0.9" stroke="#111" stroke-width="0.8" paint-order="stroke">60%</text></g></g>
<g transform="translate(91 961)"><g clip-path="url(#cp17)"><rect width="78" height="78" fill="#121212"/><g filter="url(#bb17)"><ellipse cx="25" cy="52" rx="12" ry="10" fill="#1e1e1e" opacity="1"/></g><rect width="78" height="78" filter="url(#nzw)" opacity="0.042"/><g filter="url(#bl17)"><ellipse cx="40.8" cy="10.9" rx="5.2" ry="5.2" fill="#c8c8c8" opacity="1"/><ellipse cx="19.3" cy="45.8" rx="5.2" ry="5" fill="#bdbdbd" opacity="1"/><ellipse cx="23.3" cy="57.7" rx="4.5" ry="4.2" fill="#b4b4b4" opacity="1"/><ellipse cx="31.3" cy="57.1" rx="4.2" ry="4" fill="#bcbcbc" opacity="1"/><ellipse cx="41.5" cy="11.5" rx="2" ry="2" fill="#909090" opacity="1"/><ellipse cx="20" cy="46.5" rx="2" ry="2" fill="#8a8a8a" opacity="1"/></g><rect x="4.6" y="69.5" width="18.1" height="4" fill="#fff"/><text filter="url(#lbl)" x="75.8" y="74" text-anchor="end" font-size="14" fill="#fff" letter-spacing="1.3" stroke="#fff" stroke-width="0.3">65%</text></g></g>
<g transform="translate(171 961)"><g clip-path="url(#cp18)"><rect width="78" height="78" fill="#191919"/><rect width="78" height="78" filter="url(#nzw)" opacity="0.042"/><g filter="url(#bl18)"><circle cx="29.5" cy="28.3" r="10.5" fill="none" stroke="#505050" stroke-width="1.5" opacity="1"/><circle cx="25" cy="58.8" r="8.5" fill="none" stroke="#464646" stroke-width="1.5" opacity="1"/><circle cx="22" cy="0" r="6" fill="none" stroke="#505050" stroke-width="1.5" opacity="1"/><path d="M17.01 55.89A8.5 8.5 0 0 1 32.36 54.55" stroke="#777" stroke-width="1.6" fill="none" opacity="1" stroke-linecap="round"/><ellipse cx="22.1" cy="13.1" rx="3.8" ry="3.8" fill="#eaeaea" opacity="1"/><ellipse cx="38" cy="53.2" rx="4.8" ry="4.2" fill="#f4f4f4" opacity="1"/><ellipse cx="70.7" cy="5.8" rx="2" ry="2" fill="#444" opacity="1"/></g><line x1="7.5" y1="36.8" x2="14.61" y2="43.6" stroke="#fff" stroke-width="2.6"/><path d="M19.3 48.1L10.94 45.98L16.82 39.84Z" fill="#fff"/><rect x="4.1" y="70.3" width="24.2" height="3.7" fill="#fff"/><text filter="url(#lbl)" x="75.8" y="74" text-anchor="end" font-size="14" fill="#fff" letter-spacing="1.3" stroke="#fff" stroke-width="0.3">70%</text></g></g>
<g transform="translate(251 961)"><g clip-path="url(#cp19)"><rect width="78" height="78" fill="#141414"/><rect width="78" height="78" filter="url(#nzw)" opacity="0.042"/><g filter="url(#bl19)"><ellipse cx="20.4" cy="20.4" rx="5.8" ry="5.2" fill="#858585" opacity="1"/><ellipse cx="56.6" cy="14.8" rx="5.2" ry="5" fill="#777" opacity="1"/><ellipse cx="19.3" cy="55.4" rx="5.2" ry="5" fill="#777" opacity="1"/><path d="M15.7 19.29A5 5 0 0 1 25.1 19.29" stroke="#c0c0c0" stroke-width="1.6" fill="none" opacity="1" stroke-linecap="round"/><path d="M52.37 13.96A4.5 4.5 0 0 1 60.83 13.96" stroke="#aaa" stroke-width="1.6" fill="none" opacity="1" stroke-linecap="round"/><path d="M15.07 54.46A4.5 4.5 0 0 1 23.53 54.46" stroke="#aaa" stroke-width="1.6" fill="none" opacity="1" stroke-linecap="round"/><line x1="20" y1="26" x2="19.5" y2="50" stroke="#1c1c1c" stroke-width="4" opacity="1" stroke-linecap="round"/></g><rect x="4.1" y="70.1" width="25.4" height="3.6" fill="#fff"/><text filter="url(#lbl)" x="75.8" y="74" text-anchor="end" font-size="14" fill="#fff" letter-spacing="1.3" stroke="#fff" stroke-width="0.3">75%</text></g></g>
</svg></body></html>
